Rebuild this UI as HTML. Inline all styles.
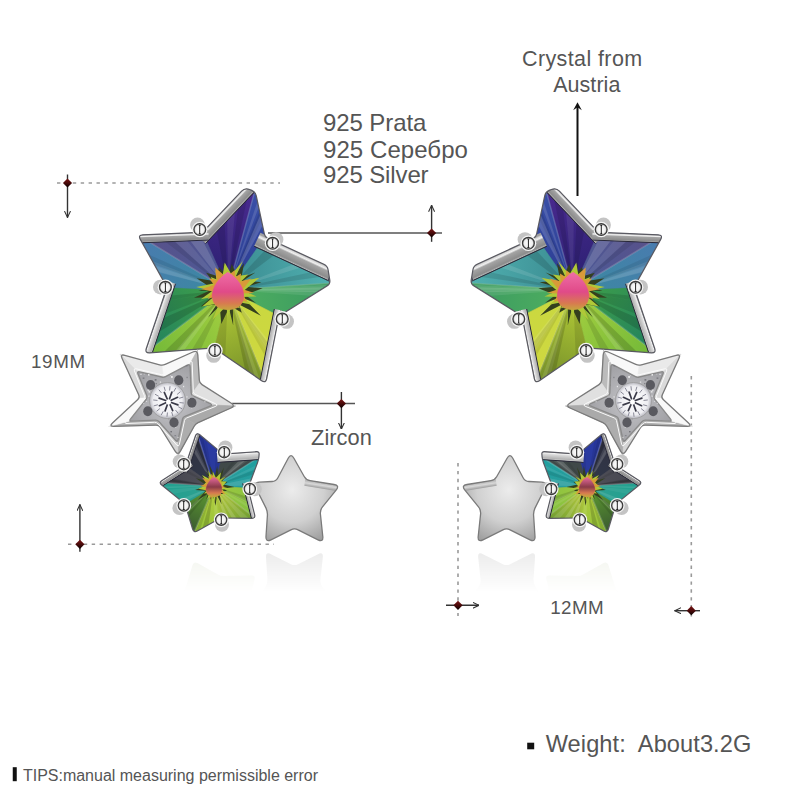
<!DOCTYPE html>
<html><head><meta charset="utf-8"><style>html,body{margin:0;padding:0;background:#fff;width:800px;height:800px;overflow:hidden}svg{display:block}</style></head>
<body><svg width="800" height="800" viewBox="0 0 800 800">
<defs>
<linearGradient id="silv2" x1="0" y1="0" x2="1" y2="1"><stop offset="0" stop-color="#f4f4f4"/><stop offset="0.55" stop-color="#d8d8d8"/><stop offset="1" stop-color="#a8a8a8"/></linearGradient>
<radialGradient id="silv3" cx="0.45" cy="0.4" r="0.7"><stop offset="0" stop-color="#ececec"/><stop offset="0.55" stop-color="#d0d0d0"/><stop offset="1" stop-color="#9a9a9a"/></radialGradient>
<radialGradient id="ball2" cx="0.5" cy="0.5" r="0.5"><stop offset="0" stop-color="#ffffff"/><stop offset="0.7" stop-color="#f0f0f0"/><stop offset="1" stop-color="#9a9a9a"/></radialGradient>
<radialGradient id="ball" cx="0.4" cy="0.35" r="0.65"><stop offset="0" stop-color="#ffffff"/><stop offset="0.45" stop-color="#d8d8d8"/><stop offset="1" stop-color="#5a5a5a"/></radialGradient>
<linearGradient id="rfade" gradientUnits="userSpaceOnUse" x1="0" y1="548" x2="0" y2="592"><stop offset="0" stop-color="#fff" stop-opacity="0.55"/><stop offset="1" stop-color="#fff" stop-opacity="0"/></linearGradient>
<mask id="rmask" maskUnits="userSpaceOnUse" x="0" y="540" width="800" height="80"><rect x="0" y="540" width="800" height="80" fill="url(#rfade)"/></mask>
<radialGradient id="pave" cx="0.5" cy="0.5" r="0.6"><stop offset="0" stop-color="#c4c4c8"/><stop offset="1" stop-color="#9c9ca0"/></radialGradient>
<radialGradient id="zirc" cx="0.5" cy="0.5" r="0.5"><stop offset="0" stop-color="#ffffff"/><stop offset="0.8" stop-color="#eeeef2"/><stop offset="1" stop-color="#b8b8c0"/></radialGradient>
<marker id="ah" viewBox="0 0 10 10" refX="9.5" refY="5" markerWidth="4.8" markerHeight="4.8" orient="auto-start-reverse"><path d="M0,0.5 L9.5,5 L0,9.5" fill="none" stroke="#333" stroke-width="1.6"/></marker>
<marker id="ah2" viewBox="0 0 10 10" refX="10" refY="5" markerWidth="3.6" markerHeight="4" orient="auto-start-reverse"><path d="M0,0 L10,5 L0,10 L3,5 Z" fill="#111"/></marker>
<linearGradient id="dia" x1="0" y1="0" x2="0" y2="1"><stop offset="0" stop-color="#7a1414"/><stop offset="0.5" stop-color="#4a0a0a"/><stop offset="1" stop-color="#080000"/></linearGradient>
<clipPath id="cl1"><path d="M241.6,191.1 Q245.0,187.5 249.6,189.5 L251.8,190.4 Q255.5,192.0 256.3,195.9 L264.4,234.1 Q265.0,237.0 267.7,238.3 L323.9,264.3 Q327.5,266.0 328.1,269.9 L329.8,280.1 Q330.4,284.0 327.0,286.1 L281.5,314.4 Q279.0,316.0 278.4,318.9 L266.7,378.6 Q265.8,383.5 261.6,380.7 L216.5,349.7 Q214.0,348.0 211.0,348.2 L149.7,352.9 Q144.8,353.2 146.3,348.5 L166.0,290.1 Q167.0,287.2 165.5,284.6 L140.3,239.4 Q137.9,235.0 142.9,234.8 L199.5,232.4 Q202.5,232.2 204.6,230.1 Z"/></clipPath>
<linearGradient id="g1" gradientUnits="userSpaceOnUse" x1="228.0" y1="290.0" x2="254.8" y2="191.0"><stop offset="0" stop-color="#2a2070"/><stop offset="1" stop-color="#4a2a90"/></linearGradient>
<linearGradient id="g2" gradientUnits="userSpaceOnUse" x1="228.0" y1="290.0" x2="254.8" y2="191.0"><stop offset="0" stop-color="#2a3a90"/><stop offset="1" stop-color="#3a50a8"/></linearGradient>
<linearGradient id="g3" gradientUnits="userSpaceOnUse" x1="228.0" y1="290.0" x2="330.4" y2="283.1"><stop offset="0" stop-color="#3a8a90"/><stop offset="1" stop-color="#50b0b0"/></linearGradient>
<linearGradient id="g4" gradientUnits="userSpaceOnUse" x1="228.0" y1="290.0" x2="330.4" y2="283.1"><stop offset="0" stop-color="#50b060"/><stop offset="1" stop-color="#3a9a60"/></linearGradient>
<linearGradient id="g5" gradientUnits="userSpaceOnUse" x1="228.0" y1="290.0" x2="265.8" y2="383.5"><stop offset="0" stop-color="#c8d840"/><stop offset="1" stop-color="#d0d840"/></linearGradient>
<linearGradient id="g6" gradientUnits="userSpaceOnUse" x1="228.0" y1="290.0" x2="265.8" y2="383.5"><stop offset="0" stop-color="#b8d038"/><stop offset="1" stop-color="#708a28"/></linearGradient>
<linearGradient id="g7" gradientUnits="userSpaceOnUse" x1="228.0" y1="290.0" x2="144.8" y2="353.2"><stop offset="0" stop-color="#a8d040"/><stop offset="1" stop-color="#70b838"/></linearGradient>
<linearGradient id="g8" gradientUnits="userSpaceOnUse" x1="228.0" y1="290.0" x2="144.8" y2="353.2"><stop offset="0" stop-color="#40a048"/><stop offset="1" stop-color="#208060"/></linearGradient>
<linearGradient id="g9" gradientUnits="userSpaceOnUse" x1="228.0" y1="290.0" x2="137.9" y2="235.0"><stop offset="0" stop-color="#3a8aa0"/><stop offset="1" stop-color="#4a7ab0"/></linearGradient>
<linearGradient id="g10" gradientUnits="userSpaceOnUse" x1="228.0" y1="290.0" x2="137.9" y2="235.0"><stop offset="0" stop-color="#4a5a98"/><stop offset="1" stop-color="#5a5088"/></linearGradient>
<linearGradient id="g11" gradientUnits="userSpaceOnUse" x1="228.0" y1="271.0" x2="228.0" y2="309.0"><stop offset="0" stop-color="#f070a8"/><stop offset="0.55" stop-color="#e04a88"/><stop offset="0.85" stop-color="#d87a50"/><stop offset="1" stop-color="#c8a040"/></linearGradient>
<linearGradient id="g12" gradientUnits="userSpaceOnUse" x1="202.5" y1="232.2" x2="209.8" y2="239.1"><stop offset="0" stop-color="#a0a0a0"/><stop offset="0.1" stop-color="#d8d8d8"/><stop offset="0.22" stop-color="#f0f0f0"/><stop offset="0.35" stop-color="#a4a4a4"/><stop offset="0.8" stop-color="#8c8c8c"/><stop offset="0.92" stop-color="#b0b0b0"/><stop offset="1" stop-color="#4a4a4a"/></linearGradient>
<linearGradient id="g13" gradientUnits="userSpaceOnUse" x1="137.9" y1="235.0" x2="138.2" y2="243.0"><stop offset="0" stop-color="#a0a0a0"/><stop offset="0.1" stop-color="#d8d8d8"/><stop offset="0.22" stop-color="#f0f0f0"/><stop offset="0.35" stop-color="#a4a4a4"/><stop offset="0.8" stop-color="#8c8c8c"/><stop offset="0.92" stop-color="#b0b0b0"/><stop offset="1" stop-color="#4a4a4a"/></linearGradient>
<linearGradient id="g14" gradientUnits="userSpaceOnUse" x1="265.0" y1="237.0" x2="259.5" y2="248.8"><stop offset="0" stop-color="#a0a0a0"/><stop offset="0.1" stop-color="#d8d8d8"/><stop offset="0.22" stop-color="#f0f0f0"/><stop offset="0.35" stop-color="#a4a4a4"/><stop offset="0.8" stop-color="#8c8c8c"/><stop offset="0.92" stop-color="#b0b0b0"/><stop offset="1" stop-color="#4a4a4a"/></linearGradient>
<linearGradient id="g15" gradientUnits="userSpaceOnUse" x1="279.0" y1="316.0" x2="273.1" y2="314.8"><stop offset="0" stop-color="#a8a8a8"/><stop offset="0.12" stop-color="#f2f2f2"/><stop offset="0.3" stop-color="#d8d8d8"/><stop offset="0.75" stop-color="#b4b4b4"/><stop offset="0.9" stop-color="#c4c4c4"/><stop offset="1" stop-color="#5a5a5a"/></linearGradient>
<linearGradient id="g16" gradientUnits="userSpaceOnUse" x1="144.8" y1="353.2" x2="151.4" y2="355.5"><stop offset="0" stop-color="#a8a8a8"/><stop offset="0.12" stop-color="#f2f2f2"/><stop offset="0.3" stop-color="#d8d8d8"/><stop offset="0.75" stop-color="#b4b4b4"/><stop offset="0.9" stop-color="#c4c4c4"/><stop offset="1" stop-color="#5a5a5a"/></linearGradient>
<clipPath id="cpave"><path d="M138.0,374.0 Q136.9,371.2 139.8,371.9 L161.8,377.0 Q163.8,377.5 165.5,376.6 L187.3,365.1 Q190.0,363.8 190.1,366.7 L191.2,393.0 Q191.2,395.0 193.1,395.8 L210.3,403.7 Q213.0,405.0 210.2,406.1 L184.9,416.3 Q183.0,417.0 182.6,419.0 L178.1,439.6 Q177.5,442.5 175.5,440.3 L158.8,421.5 Q157.5,420.0 155.5,420.1 L131.7,421.1 Q128.8,421.2 130.6,418.9 L146.3,399.1 Q147.5,397.5 146.8,395.6 Z"/></clipPath>
<clipPath id="cl4"><path d="M288.2,458.3 Q291.0,453.0 293.9,458.2 L304.2,476.5 Q306.2,480.0 310.1,480.6 L334.0,484.5 Q339.9,485.4 336.1,490.1 L322.5,506.9 Q320.0,510.0 320.4,514.0 L322.8,536.5 Q323.4,542.5 318.0,539.8 L298.1,529.8 Q294.5,528.0 290.9,529.8 L271.0,539.8 Q265.6,542.5 266.0,536.5 L267.4,515.5 Q267.7,511.5 265.9,507.9 L255.9,488.0 Q253.2,482.6 259.2,482.2 L272.0,481.5 Q276.0,481.2 277.9,477.7 Z"/></clipPath>
<linearGradient id="g17" gradientUnits="userSpaceOnUse" x1="306.2" y1="480.0" x2="305.3" y2="485.9"><stop offset="0" stop-color="#b0b0b0"/><stop offset="0.5" stop-color="#d8d8d8"/><stop offset="1" stop-color="#a0a0a0"/></linearGradient>
<clipPath id="cl3"><path d="M195.4,436.0 Q196.7,432.2 199.8,434.8 L220.7,452.1 Q223.0,454.0 226.0,453.8 L256.5,451.7 Q259.5,451.5 259.1,454.5 L258.9,457.0 Q258.5,460.0 257.5,462.8 L249.0,485.5 Q248.0,488.3 248.7,491.2 L254.6,514.6 Q255.6,518.5 251.6,518.4 L223.5,518.0 Q220.5,518.0 217.9,519.5 L197.3,530.9 Q193.8,532.8 192.6,529.0 L185.9,506.9 Q185.0,504.0 182.7,502.1 L161.7,485.0 Q158.6,482.5 162.0,480.4 L183.0,467.1 Q185.5,465.5 186.5,462.7 Z"/></clipPath>
<linearGradient id="g18" gradientUnits="userSpaceOnUse" x1="214.0" y1="486.0" x2="196.7" y2="432.2"><stop offset="0" stop-color="#30384a"/><stop offset="1" stop-color="#303040"/></linearGradient>
<linearGradient id="g19" gradientUnits="userSpaceOnUse" x1="214.0" y1="486.0" x2="196.7" y2="432.2"><stop offset="0" stop-color="#2a3a98"/><stop offset="1" stop-color="#2a3aa8"/></linearGradient>
<linearGradient id="g20" gradientUnits="userSpaceOnUse" x1="214.0" y1="486.0" x2="259.5" y2="457.0"><stop offset="0" stop-color="#404848"/><stop offset="1" stop-color="#404a4a"/></linearGradient>
<linearGradient id="g21" gradientUnits="userSpaceOnUse" x1="214.0" y1="486.0" x2="259.5" y2="457.0"><stop offset="0" stop-color="#2a9a9a"/><stop offset="1" stop-color="#20a0a0"/></linearGradient>
<linearGradient id="g22" gradientUnits="userSpaceOnUse" x1="214.0" y1="486.0" x2="255.6" y2="518.5"><stop offset="0" stop-color="#a0c840"/><stop offset="1" stop-color="#80c040"/></linearGradient>
<linearGradient id="g23" gradientUnits="userSpaceOnUse" x1="214.0" y1="486.0" x2="255.6" y2="518.5"><stop offset="0" stop-color="#c0d040"/><stop offset="1" stop-color="#6a9a30"/></linearGradient>
<linearGradient id="g24" gradientUnits="userSpaceOnUse" x1="214.0" y1="486.0" x2="193.8" y2="532.8"><stop offset="0" stop-color="#b8d040"/><stop offset="1" stop-color="#90c038"/></linearGradient>
<linearGradient id="g25" gradientUnits="userSpaceOnUse" x1="214.0" y1="486.0" x2="193.8" y2="532.8"><stop offset="0" stop-color="#60a030"/><stop offset="1" stop-color="#3a5a30"/></linearGradient>
<linearGradient id="g26" gradientUnits="userSpaceOnUse" x1="214.0" y1="486.0" x2="158.6" y2="482.5"><stop offset="0" stop-color="#30a090"/><stop offset="1" stop-color="#20a090"/></linearGradient>
<linearGradient id="g27" gradientUnits="userSpaceOnUse" x1="214.0" y1="486.0" x2="158.6" y2="482.5"><stop offset="0" stop-color="#505058"/><stop offset="1" stop-color="#454550"/></linearGradient>
<linearGradient id="g28" gradientUnits="userSpaceOnUse" x1="214.0" y1="476.0" x2="214.0" y2="496.0"><stop offset="0" stop-color="#f070a8"/><stop offset="0.55" stop-color="#8a3a48"/><stop offset="0.85" stop-color="#d87a50"/><stop offset="1" stop-color="#c8a040"/></linearGradient>
<linearGradient id="g29" gradientUnits="userSpaceOnUse" x1="223.0" y1="454.0" x2="223.5" y2="462.0"><stop offset="0" stop-color="#a8a8a8"/><stop offset="0.12" stop-color="#f2f2f2"/><stop offset="0.3" stop-color="#d8d8d8"/><stop offset="0.75" stop-color="#b4b4b4"/><stop offset="0.9" stop-color="#c4c4c4"/><stop offset="1" stop-color="#5a5a5a"/></linearGradient>
<linearGradient id="g30" gradientUnits="userSpaceOnUse" x1="248.0" y1="488.3" x2="244.1" y2="489.3"><stop offset="0" stop-color="#a8a8a8"/><stop offset="0.12" stop-color="#f2f2f2"/><stop offset="0.3" stop-color="#d8d8d8"/><stop offset="0.75" stop-color="#b4b4b4"/><stop offset="0.9" stop-color="#c4c4c4"/><stop offset="1" stop-color="#5a5a5a"/></linearGradient>
<linearGradient id="g31" gradientUnits="userSpaceOnUse" x1="158.6" y1="482.5" x2="161.3" y2="486.7"><stop offset="0" stop-color="#a0a0a0"/><stop offset="0.1" stop-color="#d8d8d8"/><stop offset="0.22" stop-color="#f0f0f0"/><stop offset="0.35" stop-color="#a4a4a4"/><stop offset="0.8" stop-color="#8c8c8c"/><stop offset="0.92" stop-color="#b0b0b0"/><stop offset="1" stop-color="#4a4a4a"/></linearGradient>
<linearGradient id="g32" gradientUnits="userSpaceOnUse" x1="185.5" y1="465.5" x2="189.3" y2="466.8"><stop offset="0" stop-color="#a0a0a0"/><stop offset="0.1" stop-color="#d8d8d8"/><stop offset="0.22" stop-color="#f0f0f0"/><stop offset="0.35" stop-color="#a4a4a4"/><stop offset="0.8" stop-color="#8c8c8c"/><stop offset="0.92" stop-color="#b0b0b0"/><stop offset="1" stop-color="#4a4a4a"/></linearGradient></defs>
<line x1="57" y1="183" x2="280" y2="183" stroke="#9a9a9a" stroke-width="1.6" stroke-dasharray="3.4 4.5"/>
<line x1="67.5" y1="174.5" x2="67.5" y2="217.5" stroke="#333" stroke-width="1.4" marker-end="url(#ah)"/>
<polygon points="67.5,178.4 72.1,183 67.5,187.6 62.9,183" fill="url(#dia)"/>
<line x1="268" y1="233" x2="442" y2="233" stroke="#555" stroke-width="1.5"/>
<line x1="431.6" y1="241.8" x2="431.6" y2="205.3" stroke="#333" stroke-width="1.4" marker-end="url(#ah)"/>
<polygon points="431.6,228.4 436.20000000000005,233 431.6,237.6 427.0,233" fill="url(#dia)"/>
<line x1="577.5" y1="196" x2="577.5" y2="106" stroke="#111" stroke-width="2"/><path d="M577.5,102.3 L581.8,110.2 L577.5,107.2 L573.2,110.2 Z" fill="#111"/>
<line x1="232" y1="403.6" x2="355" y2="403.6" stroke="#555" stroke-width="1.5"/>
<line x1="341.4" y1="392" x2="341.4" y2="429" stroke="#333" stroke-width="1.4" marker-end="url(#ah)"/>
<polygon points="341.4,399.0 346.0,403.6 341.4,408.20000000000005 336.79999999999995,403.6" fill="url(#dia)"/>
<line x1="68" y1="544.3" x2="274" y2="544.3" stroke="#9a9a9a" stroke-width="1.6" stroke-dasharray="3.4 4.5"/>
<line x1="79.9" y1="551.7" x2="79.9" y2="504.6" stroke="#333" stroke-width="1.4" marker-end="url(#ah)"/>
<polygon points="79.9,539.6999999999999 84.5,544.3 79.9,548.9 75.30000000000001,544.3" fill="url(#dia)"/>
<line x1="458" y1="463" x2="458" y2="616" stroke="#9a9a9a" stroke-width="1.6" stroke-dasharray="3.4 4.5"/>
<line x1="446" y1="605.3" x2="479" y2="605.3" stroke="#333" stroke-width="1.4" marker-end="url(#ah)"/>
<polygon points="458,600.6999999999999 462.6,605.3 458,609.9 453.4,605.3" fill="url(#dia)"/>
<line x1="691.3" y1="376" x2="691.3" y2="618" stroke="#9a9a9a" stroke-width="1.6" stroke-dasharray="3.4 4.5"/>
<line x1="700" y1="610.7" x2="674.7" y2="610.7" stroke="#333" stroke-width="1.4" marker-end="url(#ah)"/>
<polygon points="691.3,606.1 695.9,610.7 691.3,615.3000000000001 686.6999999999999,610.7" fill="url(#dia)"/>
<g><g mask="url(#rmask)"><g transform="translate(0,1094) scale(1,-1)"><path d="M195.4,436.0 Q196.7,432.2 199.8,434.8 L220.7,452.1 Q223.0,454.0 226.0,453.8 L256.5,451.7 Q259.5,451.5 259.1,454.5 L258.9,457.0 Q258.5,460.0 257.5,462.8 L249.0,485.5 Q248.0,488.3 248.7,491.2 L254.6,514.6 Q255.6,518.5 251.6,518.4 L223.5,518.0 Q220.5,518.0 217.9,519.5 L197.3,530.9 Q193.8,532.8 192.6,529.0 L185.9,506.9 Q185.0,504.0 182.7,502.1 L161.7,485.0 Q158.6,482.5 162.0,480.4 L183.0,467.1 Q185.5,465.5 186.5,462.7 Z" fill="#e6eadc"/><path d="M288.2,458.3 Q291.0,453.0 293.9,458.2 L304.2,476.5 Q306.2,480.0 310.1,480.6 L334.0,484.5 Q339.9,485.4 336.1,490.1 L322.5,506.9 Q320.0,510.0 320.4,514.0 L322.8,536.5 Q323.4,542.5 318.0,539.8 L298.1,529.8 Q294.5,528.0 290.9,529.8 L271.0,539.8 Q265.6,542.5 266.0,536.5 L267.4,515.5 Q267.7,511.5 265.9,507.9 L255.9,488.0 Q253.2,482.6 259.2,482.2 L272.0,481.5 Q276.0,481.2 277.9,477.7 Z" fill="#d8d8d8"/></g></g><g clip-path="url(#cl1)">
<polygon points="245.0,187.5 255.5,192.0 265.0,237.0 327.5,266.0 330.4,284.0 279.0,316.0 265.8,383.5 214.0,348.0 144.8,353.2 167.0,287.2 137.9,235.0 202.5,232.2" fill="#445"/>
<polygon points="228.0,290.0 202.5,232.2 254.8,191.0" fill="url(#g1)" stroke="url(#g1)" stroke-width="0.6"/>
<polygon points="228.0,290.0 254.8,191.0 265.0,237.0" fill="url(#g2)" stroke="url(#g2)" stroke-width="0.6"/>
<polygon points="228.0,290.0 215.1,222.3 224.2,215.1" fill="#000000" fill-opacity="0.11"/>
<polygon points="228.0,290.0 227.2,212.8 235.5,206.2" fill="#ffffff" fill-opacity="0.07"/>
<polygon points="228.0,290.0 238.6,203.7 247.5,196.7" fill="#000000" fill-opacity="0.11"/>
<polygon points="228.0,290.0 259.3,211.6 261.3,220.2" fill="#000000" fill-opacity="0.10"/>
<polygon points="228.0,290.0 260.2,215.2 262.5,225.6" fill="#ffffff" fill-opacity="0.16"/>
<polygon points="228.0,290.0 257.2,202.2 258.5,207.7" fill="#ffffff" fill-opacity="0.13"/>
<line x1="228.0" y1="290.0" x2="254.8" y2="191.0" stroke="#ffffff" stroke-opacity="0.18" stroke-width="1.5"/>
<polygon points="228.0,290.0 265.0,237.0 330.4,283.1" fill="url(#g3)" stroke="url(#g3)" stroke-width="0.6"/>
<polygon points="228.0,290.0 330.4,283.1 279.0,316.0" fill="url(#g4)" stroke="url(#g4)" stroke-width="0.6"/>
<polygon points="228.0,290.0 314.1,271.6 321.5,276.8" fill="#000000" fill-opacity="0.11"/>
<polygon points="228.0,290.0 272.4,242.2 282.1,249.1" fill="#000000" fill-opacity="0.13"/>
<polygon points="228.0,290.0 300.1,261.7 306.0,265.9" fill="#ffffff" fill-opacity="0.11"/>
<polygon points="228.0,290.0 327.7,284.8 320.0,289.7" fill="#ffffff" fill-opacity="0.13"/>
<polygon points="228.0,290.0 318.9,290.5 310.6,295.8" fill="#ffffff" fill-opacity="0.09"/>
<polygon points="228.0,290.0 323.8,287.3 316.0,292.3" fill="#ffffff" fill-opacity="0.12"/>
<line x1="228.0" y1="290.0" x2="330.4" y2="283.1" stroke="#ffffff" stroke-opacity="0.18" stroke-width="1.5"/>
<polygon points="228.0,290.0 279.0,316.0 265.8,383.5" fill="url(#g5)" stroke="url(#g5)" stroke-width="0.6"/>
<polygon points="228.0,290.0 265.8,383.5 214.0,348.0" fill="url(#g6)" stroke="url(#g6)" stroke-width="0.6"/>
<polygon points="228.0,290.0 273.1,346.2 271.3,355.0" fill="#ffffff" fill-opacity="0.11"/>
<polygon points="228.0,290.0 272.5,349.1 269.5,364.2" fill="#000000" fill-opacity="0.09"/>
<polygon points="228.0,290.0 271.6,353.9 270.4,359.6" fill="#ffffff" fill-opacity="0.06"/>
<polygon points="228.0,290.0 259.7,379.3 249.9,372.6" fill="#ffffff" fill-opacity="0.10"/>
<polygon points="228.0,290.0 254.6,375.8 245.0,369.3" fill="#000000" fill-opacity="0.15"/>
<polygon points="228.0,290.0 225.3,355.7 214.0,348.0" fill="#000000" fill-opacity="0.11"/>
<line x1="228.0" y1="290.0" x2="265.8" y2="383.5" stroke="#ffffff" stroke-opacity="0.18" stroke-width="1.5"/>
<polygon points="228.0,290.0 214.0,348.0 144.8,353.2" fill="url(#g7)" stroke="url(#g7)" stroke-width="0.6"/>
<polygon points="228.0,290.0 144.8,353.2 167.0,287.2" fill="url(#g8)" stroke="url(#g8)" stroke-width="0.6"/>
<polygon points="228.0,290.0 177.8,350.7 164.1,351.8" fill="#000000" fill-opacity="0.15"/>
<polygon points="228.0,290.0 184.1,350.3 175.5,350.9" fill="#ffffff" fill-opacity="0.12"/>
<polygon points="228.0,290.0 200.9,349.0 191.9,349.7" fill="#000000" fill-opacity="0.11"/>
<polygon points="228.0,290.0 150.2,337.2 155.5,321.4" fill="#000000" fill-opacity="0.15"/>
<polygon points="228.0,290.0 162.1,301.6 164.0,296.3" fill="#000000" fill-opacity="0.12"/>
<polygon points="228.0,290.0 157.1,316.7 162.1,301.7" fill="#000000" fill-opacity="0.10"/>
<line x1="228.0" y1="290.0" x2="144.8" y2="353.2" stroke="#ffffff" stroke-opacity="0.18" stroke-width="1.5"/>
<polygon points="228.0,290.0 167.0,287.2 137.9,235.0" fill="url(#g9)" stroke="url(#g9)" stroke-width="0.6"/>
<polygon points="228.0,290.0 137.9,235.0 202.5,232.2" fill="url(#g10)" stroke="url(#g10)" stroke-width="0.6"/>
<polygon points="228.0,290.0 158.3,271.7 152.4,261.1" fill="#ffffff" fill-opacity="0.09"/>
<polygon points="228.0,290.0 158.7,272.4 155.1,265.9" fill="#ffffff" fill-opacity="0.08"/>
<polygon points="228.0,290.0 154.3,264.4 148.8,254.5" fill="#000000" fill-opacity="0.08"/>
<polygon points="228.0,290.0 184.3,233.0 198.5,232.4" fill="#ffffff" fill-opacity="0.14"/>
<polygon points="228.0,290.0 166.0,233.8 180.7,233.2" fill="#ffffff" fill-opacity="0.08"/>
<polygon points="228.0,290.0 155.6,234.2 166.5,233.8" fill="#000000" fill-opacity="0.09"/>
<line x1="228.0" y1="290.0" x2="137.9" y2="235.0" stroke="#ffffff" stroke-opacity="0.18" stroke-width="1.5"/>
<polygon points="262.7,288.2 245.4,295.0 256.1,303.0 244.0,298.6 260.9,315.8 239.1,304.4 241.8,312.7 232.9,307.5 233.2,325.5 228.9,308.1 221.3,324.1 219.7,306.1 208.1,317.6 216.9,304.3 200.8,306.5 211.4,297.3 193.9,297.7 209.9,290.5 198.4,291.1 210.1,287.3 196.6,278.2 212.4,280.8 206.1,272.8 216.7,275.8 219.0,267.2 223.8,272.3 223.1,263.2 229.4,271.9 231.8,264.1 236.1,273.8 244.1,263.1 241.4,277.8 255.4,272.5 243.4,280.4 261.6,282.3 245.9,286.8" fill="#34401e"/>
<polygon points="256.6,296.4 242.2,297.0 251.9,304.7 238.3,302.1 239.8,308.3 231.9,305.4 227.2,317.2 226.7,305.8 212.5,320.0 219.2,303.2 202.1,306.5 213.7,296.8 200.8,299.3 212.2,291.0 196.2,287.0 213.5,283.6 210.7,277.1 216.3,279.3 215.4,270.4 222.7,275.1 224.7,262.5 231.5,274.6 242.9,260.9 235.9,276.3 248.2,274.5 241.3,281.3 259.5,277.8 243.8,290.7" fill="#b0c838"/>
<polygon points="254.2,292.9 242.6,293.4 247.1,301.9 239.3,299.9 235.3,304.3 233.7,303.8 232.5,309.2 226.9,304.9 224.6,305.4 218.9,301.9 213.5,302.4 214.7,296.8 207.6,299.0 213.1,291.5 201.5,289.2 214.0,284.8 209.0,278.5 216.8,280.1 215.2,267.4 224.3,275.5 227.3,271.5 228.5,275.0 234.7,270.2 235.5,277.1 241.0,273.4 240.3,281.5 251.4,278.6 242.9,289.3" fill="#d89a38"/>
<path d="M228.0,272.0 C237.6,277.7 244.0,287.2 244.0,295.8 C244.0,306.2 236.0,310.0 228.0,310.0 C220.0,310.0 212.0,306.2 212.0,295.8 C212.0,287.2 218.4,277.7 228.0,272.0 Z" fill="url(#g11)"/>
<polygon points="196.9,235.2 247.7,181.8 256.4,190.0 205.6,243.5" fill="url(#g12)"/><line x1="205.6" y1="243.5" x2="256.4" y2="190.0" stroke="#2a2a3a" stroke-width="1"/>
<polygon points="131.8,233.3 208.4,230.0 208.8,240.0 132.2,243.2" fill="url(#g13)"/><line x1="132.2" y1="243.2" x2="208.8" y2="240.0" stroke="#2a2a3a" stroke-width="1"/>
<polygon points="260.4,232.7 333.8,266.7 327.5,280.3 254.1,246.3" fill="url(#g14)"/><line x1="254.1" y1="246.3" x2="327.5" y2="280.3" stroke="#2a2a3a" stroke-width="1"/>
<polygon points="282.1,310.5 266.6,389.8 258.7,388.2 274.3,309.0" fill="url(#g15)"/><line x1="274.3" y1="309.0" x2="258.7" y2="388.2" stroke="#2a2a3a" stroke-width="1"/>
<polygon points="140.9,358.3 167.0,280.9 175.5,283.8 149.5,361.2" fill="url(#g16)"/><line x1="149.5" y1="361.2" x2="175.5" y2="283.8" stroke="#2a2a3a" stroke-width="1"/>
</g>
<path d="M241.6,191.1 Q245.0,187.5 249.6,189.5 L251.8,190.4 Q255.5,192.0 256.3,195.9 L264.4,234.1 Q265.0,237.0 267.7,238.3 L323.9,264.3 Q327.5,266.0 328.1,269.9 L329.8,280.1 Q330.4,284.0 327.0,286.1 L281.5,314.4 Q279.0,316.0 278.4,318.9 L266.7,378.6 Q265.8,383.5 261.6,380.7 L216.5,349.7 Q214.0,348.0 211.0,348.2 L149.7,352.9 Q144.8,353.2 146.3,348.5 L166.0,290.1 Q167.0,287.2 165.5,284.6 L140.3,239.4 Q137.9,235.0 142.9,234.8 L199.5,232.4 Q202.5,232.2 204.6,230.1 Z" fill="none" stroke="#5a5a62" stroke-width="1.2"/>
<circle cx="197.5" cy="225.0" r="7.4" fill="#c4c4c4"/><circle cx="199.8" cy="229.5" r="7.8" fill="#f4f4f4"/><circle cx="199.8" cy="229.5" r="5.9" fill="url(#ball2)" stroke="#3a3a3a" stroke-width="1.25"/><path d="M198.3,224.8 L201.2,224.8 L200.2,226.0 L200.2,233.0 L201.2,234.2 L198.3,234.2 L199.2,233.0 L199.2,226.0 Z" fill="#202020"/>
<circle cx="276.0" cy="239.6" r="7.4" fill="#c4c4c4"/><circle cx="272.6" cy="243.2" r="7.8" fill="#f4f4f4"/><circle cx="272.6" cy="243.2" r="5.9" fill="url(#ball2)" stroke="#3a3a3a" stroke-width="1.25"/><path d="M271.2,238.6 L274.0,238.6 L273.1,239.7 L273.1,246.8 L274.0,247.9 L271.2,247.9 L272.1,246.8 L272.1,239.7 Z" fill="#202020"/>
<circle cx="160.4" cy="287.1" r="7.4" fill="#c4c4c4"/><circle cx="165.4" cy="287.2" r="7.8" fill="#f4f4f4"/><circle cx="165.4" cy="287.2" r="5.9" fill="url(#ball2)" stroke="#3a3a3a" stroke-width="1.25"/><path d="M164.0,282.6 L166.8,282.6 L165.9,283.7 L165.9,290.8 L166.8,291.9 L164.0,291.9 L164.9,290.8 L164.9,283.7 Z" fill="#202020"/>
<circle cx="286.6" cy="321.4" r="7.4" fill="#c4c4c4"/><circle cx="282.2" cy="318.9" r="7.8" fill="#f4f4f4"/><circle cx="282.2" cy="318.9" r="5.9" fill="url(#ball2)" stroke="#3a3a3a" stroke-width="1.25"/><path d="M280.9,314.2 L283.6,314.2 L282.8,315.4 L282.8,322.4 L283.6,323.6 L280.9,323.6 L281.8,322.4 L281.8,315.4 Z" fill="#202020"/>
<circle cx="213.7" cy="355.4" r="7.4" fill="#c4c4c4"/><circle cx="214.9" cy="350.5" r="7.8" fill="#f4f4f4"/><circle cx="214.9" cy="350.5" r="5.9" fill="url(#ball2)" stroke="#3a3a3a" stroke-width="1.25"/><path d="M213.5,345.8 L216.3,345.8 L215.4,347.0 L215.4,354.0 L216.3,355.2 L213.5,355.2 L214.4,354.0 L214.4,347.0 Z" fill="#202020"/>
<path d="M122.1,358.5 Q120.0,354.0 124.8,355.3 L159.6,364.8 Q162.5,365.6 165.2,364.4 L192.9,352.0 Q197.5,350.0 197.8,355.0 L199.3,380.0 Q199.5,383.0 202.0,384.6 L231.3,403.3 Q235.5,406.0 230.9,408.0 L198.1,422.7 Q195.4,423.9 194.0,426.5 L180.4,451.1 Q178.0,455.5 175.3,451.3 L160.4,427.5 Q158.8,425.0 155.8,425.1 L113.8,426.3 Q108.8,426.5 112.5,423.1 L137.8,399.5 Q140.0,397.5 138.7,394.8 Z" fill="#e0e0e0"/>
<polygon points="120.0,354.0 162.5,365.6 163.8,377.5 136.9,371.2" fill="#eaeaea" stroke="#eaeaea" stroke-width="0.6"/>
<polygon points="162.5,365.6 197.5,350.0 190.0,363.8 163.8,377.5" fill="#f8f8f8" stroke="#f8f8f8" stroke-width="0.6"/>
<polygon points="197.5,350.0 199.5,383.0 191.2,395.0 190.0,363.8" fill="#bbbbbb" stroke="#bbbbbb" stroke-width="0.6"/>
<polygon points="199.5,383.0 235.5,406.0 213.0,405.0 191.2,395.0" fill="#e0e0e0" stroke="#e0e0e0" stroke-width="0.6"/>
<polygon points="235.5,406.0 195.4,423.9 183.0,417.0 213.0,405.0" fill="#aaaaaa" stroke="#aaaaaa" stroke-width="0.6"/>
<polygon points="195.4,423.9 178.0,455.5 177.5,442.5 183.0,417.0" fill="#adadad" stroke="#adadad" stroke-width="0.6"/>
<polygon points="178.0,455.5 158.8,425.0 157.5,420.0 177.5,442.5" fill="#d5d5d5" stroke="#d5d5d5" stroke-width="0.6"/>
<polygon points="158.8,425.0 108.8,426.5 128.8,421.2 157.5,420.0" fill="#b1b1b1" stroke="#b1b1b1" stroke-width="0.6"/>
<polygon points="108.8,426.5 140.0,397.5 147.5,397.5 128.8,421.2" fill="#f9f9f9" stroke="#f9f9f9" stroke-width="0.6"/>
<polygon points="140.0,397.5 120.0,354.0 136.9,371.2 147.5,397.5" fill="#dadada" stroke="#dadada" stroke-width="0.6"/>
<path d="M122.1,358.5 Q120.0,354.0 124.8,355.3 L159.6,364.8 Q162.5,365.6 165.2,364.4 L192.9,352.0 Q197.5,350.0 197.8,355.0 L199.3,380.0 Q199.5,383.0 202.0,384.6 L231.3,403.3 Q235.5,406.0 230.9,408.0 L198.1,422.7 Q195.4,423.9 194.0,426.5 L180.4,451.1 Q178.0,455.5 175.3,451.3 L160.4,427.5 Q158.8,425.0 155.8,425.1 L113.8,426.3 Q108.8,426.5 112.5,423.1 L137.8,399.5 Q140.0,397.5 138.7,394.8 Z" fill="none" stroke="#7a7a7a" stroke-width="1.3"/>
<path d="M138.0,374.0 Q136.9,371.2 139.8,371.9 L161.8,377.0 Q163.8,377.5 165.5,376.6 L187.3,365.1 Q190.0,363.8 190.1,366.7 L191.2,393.0 Q191.2,395.0 193.1,395.8 L210.3,403.7 Q213.0,405.0 210.2,406.1 L184.9,416.3 Q183.0,417.0 182.6,419.0 L178.1,439.6 Q177.5,442.5 175.5,440.3 L158.8,421.5 Q157.5,420.0 155.5,420.1 L131.7,421.1 Q128.8,421.2 130.6,418.9 L146.3,399.1 Q147.5,397.5 146.8,395.6 Z" fill="url(#pave)" stroke="#8a8a8a" stroke-width="1.4"/>
<path d="M134.4,370.9 Q133.3,368.1 136.2,368.8 L161.5,374.7 Q163.5,375.2 165.2,374.2 L189.4,361.6 Q192.1,360.2 192.2,363.2 L193.3,391.6 Q193.4,393.6 195.2,394.4 L215.8,403.9 Q218.6,405.1 215.8,406.3 L186.8,417.9 Q184.9,418.6 184.5,420.6 L179.4,444.3 Q178.7,447.2 176.7,445.0 L157.9,423.7 Q156.6,422.2 154.6,422.3 L127.0,423.5 Q124.0,423.7 125.9,421.3 L143.7,398.7 Q145.0,397.1 144.2,395.3 Z" fill="none" stroke="#fafafa" stroke-width="1"/>
<g clip-path="url(#cpave)"><rect x="154.1" y="372.8" width="0.9" height="1.3" fill="#6a6a70" fill-opacity="0.58"/><rect x="130.2" y="403.1" width="1.2" height="0.9" fill="#ffffff" fill-opacity="0.45"/><rect x="163.2" y="430.3" width="1.0" height="1.4" fill="#ffffff" fill-opacity="0.87"/><rect x="176.9" y="393.7" width="0.8" height="1.7" fill="#6a6a70" fill-opacity="0.54"/><rect x="138.0" y="370.0" width="1.6" height="1.0" fill="#ffffff" fill-opacity="0.69"/><rect x="182.5" y="391.7" width="0.9" height="0.9" fill="#ffffff" fill-opacity="0.50"/><rect x="186.2" y="396.3" width="1.4" height="1.3" fill="#ffffff" fill-opacity="0.55"/><rect x="196.5" y="419.4" width="1.4" height="1.3" fill="#ffffff" fill-opacity="0.84"/><rect x="190.7" y="384.5" width="0.9" height="1.2" fill="#6a6a70" fill-opacity="0.78"/><rect x="138.7" y="401.6" width="1.5" height="1.6" fill="#ffffff" fill-opacity="0.69"/><rect x="203.8" y="386.7" width="1.4" height="1.4" fill="#6a6a70" fill-opacity="0.63"/><rect x="200.6" y="440.3" width="1.5" height="0.9" fill="#ffffff" fill-opacity="0.75"/><rect x="183.2" y="444.4" width="1.1" height="1.2" fill="#6a6a70" fill-opacity="0.73"/><rect x="127.0" y="399.2" width="0.9" height="0.9" fill="#ffffff" fill-opacity="0.78"/><rect x="136.6" y="381.0" width="1.7" height="0.9" fill="#ffffff" fill-opacity="0.62"/><rect x="174.4" y="435.1" width="1.7" height="1.1" fill="#6a6a70" fill-opacity="0.61"/><rect x="157.3" y="435.2" width="1.0" height="1.0" fill="#6a6a70" fill-opacity="0.52"/><rect x="146.0" y="401.2" width="1.1" height="0.8" fill="#ffffff" fill-opacity="0.61"/><rect x="158.2" y="408.1" width="1.5" height="1.3" fill="#6a6a70" fill-opacity="0.71"/><rect x="185.9" y="364.6" width="1.6" height="1.7" fill="#6a6a70" fill-opacity="0.80"/><rect x="160.3" y="393.9" width="1.4" height="0.9" fill="#ffffff" fill-opacity="0.43"/><rect x="143.8" y="373.8" width="0.9" height="0.8" fill="#ffffff" fill-opacity="0.48"/><rect x="134.1" y="390.9" width="1.7" height="1.4" fill="#ffffff" fill-opacity="0.47"/><rect x="147.7" y="389.5" width="0.9" height="1.6" fill="#ffffff" fill-opacity="0.90"/><rect x="166.9" y="401.1" width="0.9" height="1.1" fill="#ffffff" fill-opacity="0.53"/><rect x="199.6" y="373.7" width="1.8" height="1.3" fill="#ffffff" fill-opacity="0.47"/><rect x="173.9" y="362.3" width="1.8" height="1.7" fill="#ffffff" fill-opacity="0.75"/><rect x="148.5" y="391.2" width="1.6" height="1.3" fill="#ffffff" fill-opacity="0.79"/><rect x="154.7" y="379.0" width="1.8" height="1.7" fill="#6a6a70" fill-opacity="0.80"/><rect x="198.6" y="422.9" width="1.3" height="1.2" fill="#ffffff" fill-opacity="0.41"/><rect x="127.5" y="383.8" width="1.5" height="1.8" fill="#ffffff" fill-opacity="0.62"/><rect x="209.3" y="444.0" width="1.2" height="1.0" fill="#6a6a70" fill-opacity="0.51"/><rect x="142.7" y="377.4" width="1.7" height="1.6" fill="#6a6a70" fill-opacity="0.64"/><rect x="183.8" y="428.0" width="1.5" height="1.7" fill="#ffffff" fill-opacity="0.79"/><rect x="192.5" y="400.6" width="1.6" height="1.1" fill="#ffffff" fill-opacity="0.80"/><rect x="212.4" y="393.6" width="1.7" height="1.5" fill="#ffffff" fill-opacity="0.49"/><rect x="136.4" y="372.8" width="1.6" height="0.9" fill="#6a6a70" fill-opacity="0.81"/><rect x="213.2" y="415.9" width="1.3" height="0.9" fill="#ffffff" fill-opacity="0.41"/><rect x="212.4" y="415.2" width="1.7" height="1.2" fill="#ffffff" fill-opacity="0.84"/><rect x="199.4" y="377.9" width="1.1" height="1.0" fill="#ffffff" fill-opacity="0.69"/><rect x="148.3" y="395.6" width="1.7" height="1.2" fill="#ffffff" fill-opacity="0.63"/><rect x="177.5" y="436.9" width="1.7" height="1.3" fill="#ffffff" fill-opacity="0.67"/><rect x="172.1" y="361.6" width="1.0" height="0.8" fill="#ffffff" fill-opacity="0.80"/><rect x="140.5" y="400.2" width="1.4" height="1.1" fill="#6a6a70" fill-opacity="0.66"/><rect x="175.0" y="426.7" width="1.4" height="1.0" fill="#ffffff" fill-opacity="0.54"/><rect x="194.5" y="403.2" width="1.6" height="1.7" fill="#ffffff" fill-opacity="0.62"/><rect x="180.1" y="403.0" width="1.5" height="1.3" fill="#ffffff" fill-opacity="0.67"/><rect x="168.0" y="440.0" width="1.7" height="1.7" fill="#6a6a70" fill-opacity="0.53"/><rect x="175.4" y="440.2" width="0.9" height="0.9" fill="#6a6a70" fill-opacity="0.62"/><rect x="131.5" y="380.5" width="1.5" height="1.6" fill="#ffffff" fill-opacity="0.85"/><rect x="138.9" y="420.9" width="0.9" height="1.7" fill="#6a6a70" fill-opacity="0.88"/><rect x="144.8" y="441.0" width="1.3" height="1.8" fill="#ffffff" fill-opacity="0.82"/><rect x="139.5" y="396.7" width="1.1" height="1.0" fill="#ffffff" fill-opacity="0.56"/><rect x="190.0" y="361.7" width="1.2" height="0.8" fill="#ffffff" fill-opacity="0.57"/><rect x="181.2" y="403.5" width="1.8" height="1.6" fill="#ffffff" fill-opacity="0.89"/><rect x="134.4" y="382.6" width="1.6" height="1.1" fill="#ffffff" fill-opacity="0.46"/><rect x="163.0" y="437.5" width="1.1" height="0.9" fill="#6a6a70" fill-opacity="0.86"/><rect x="176.4" y="419.5" width="0.9" height="1.5" fill="#ffffff" fill-opacity="0.61"/><rect x="131.5" y="439.8" width="1.6" height="0.9" fill="#6a6a70" fill-opacity="0.83"/><rect x="131.0" y="433.3" width="1.1" height="1.4" fill="#ffffff" fill-opacity="0.86"/><rect x="149.1" y="371.0" width="1.0" height="0.9" fill="#ffffff" fill-opacity="0.48"/><rect x="129.5" y="377.2" width="1.1" height="1.6" fill="#ffffff" fill-opacity="0.54"/><rect x="170.0" y="375.1" width="0.8" height="1.1" fill="#ffffff" fill-opacity="0.41"/><rect x="191.0" y="406.8" width="1.3" height="1.7" fill="#ffffff" fill-opacity="0.45"/><rect x="198.7" y="396.7" width="1.6" height="1.2" fill="#ffffff" fill-opacity="0.65"/><rect x="186.9" y="443.5" width="1.6" height="1.5" fill="#ffffff" fill-opacity="0.72"/><rect x="161.4" y="389.5" width="0.9" height="0.9" fill="#ffffff" fill-opacity="0.77"/><rect x="148.0" y="373.9" width="1.6" height="1.7" fill="#ffffff" fill-opacity="0.74"/><rect x="150.4" y="380.6" width="1.3" height="1.0" fill="#ffffff" fill-opacity="0.62"/><rect x="148.7" y="441.8" width="1.3" height="1.0" fill="#6a6a70" fill-opacity="0.88"/><rect x="152.9" y="390.3" width="1.2" height="1.3" fill="#ffffff" fill-opacity="0.65"/><rect x="143.1" y="402.9" width="1.1" height="0.9" fill="#ffffff" fill-opacity="0.60"/><rect x="128.8" y="361.9" width="1.0" height="1.4" fill="#ffffff" fill-opacity="0.66"/><rect x="192.5" y="415.9" width="1.7" height="1.2" fill="#6a6a70" fill-opacity="0.56"/><rect x="213.6" y="372.7" width="1.4" height="0.8" fill="#6a6a70" fill-opacity="0.82"/><rect x="205.3" y="413.3" width="1.6" height="0.9" fill="#6a6a70" fill-opacity="0.66"/><rect x="170.4" y="431.0" width="1.6" height="1.4" fill="#6a6a70" fill-opacity="0.85"/><rect x="186.5" y="418.9" width="0.8" height="0.9" fill="#ffffff" fill-opacity="0.58"/><rect x="134.4" y="431.0" width="1.4" height="1.4" fill="#ffffff" fill-opacity="0.74"/><rect x="169.0" y="360.3" width="1.5" height="1.3" fill="#6a6a70" fill-opacity="0.67"/><rect x="184.3" y="365.6" width="1.1" height="0.9" fill="#6a6a70" fill-opacity="0.53"/><rect x="190.6" y="377.4" width="1.8" height="1.3" fill="#6a6a70" fill-opacity="0.59"/><rect x="168.1" y="418.1" width="1.4" height="1.4" fill="#6a6a70" fill-opacity="0.44"/><rect x="138.3" y="381.6" width="1.1" height="1.4" fill="#6a6a70" fill-opacity="0.41"/><rect x="130.5" y="382.8" width="1.5" height="1.5" fill="#6a6a70" fill-opacity="0.55"/><rect x="171.5" y="399.5" width="0.9" height="1.7" fill="#ffffff" fill-opacity="0.50"/><rect x="213.0" y="439.6" width="1.3" height="1.6" fill="#ffffff" fill-opacity="0.88"/><rect x="165.5" y="382.8" width="1.7" height="1.0" fill="#ffffff" fill-opacity="0.69"/><rect x="137.8" y="404.5" width="0.9" height="1.6" fill="#6a6a70" fill-opacity="0.65"/><rect x="204.8" y="419.8" width="1.7" height="1.3" fill="#ffffff" fill-opacity="0.41"/><rect x="125.3" y="401.8" width="1.1" height="0.9" fill="#ffffff" fill-opacity="0.57"/><rect x="153.4" y="431.4" width="1.6" height="1.6" fill="#ffffff" fill-opacity="0.46"/><rect x="208.4" y="420.6" width="1.1" height="1.2" fill="#6a6a70" fill-opacity="0.60"/><rect x="214.9" y="410.1" width="1.2" height="1.1" fill="#ffffff" fill-opacity="0.42"/><rect x="134.2" y="430.9" width="1.7" height="1.0" fill="#ffffff" fill-opacity="0.53"/><rect x="171.0" y="376.1" width="1.8" height="1.7" fill="#ffffff" fill-opacity="0.81"/><rect x="181.8" y="437.6" width="1.3" height="1.5" fill="#6a6a70" fill-opacity="0.42"/><rect x="190.9" y="398.3" width="1.4" height="1.1" fill="#6a6a70" fill-opacity="0.42"/><rect x="208.4" y="370.8" width="1.1" height="1.1" fill="#ffffff" fill-opacity="0.77"/><rect x="212.9" y="382.1" width="1.1" height="1.4" fill="#6a6a70" fill-opacity="0.60"/><rect x="140.1" y="373.7" width="1.7" height="1.3" fill="#ffffff" fill-opacity="0.51"/><rect x="206.6" y="444.7" width="0.9" height="1.0" fill="#ffffff" fill-opacity="0.45"/><rect x="155.8" y="367.7" width="1.1" height="1.4" fill="#ffffff" fill-opacity="0.84"/><rect x="192.5" y="395.1" width="1.3" height="1.2" fill="#ffffff" fill-opacity="0.57"/><rect x="130.6" y="383.6" width="0.9" height="1.3" fill="#6a6a70" fill-opacity="0.71"/><rect x="202.7" y="378.4" width="1.0" height="1.2" fill="#ffffff" fill-opacity="0.62"/><rect x="210.9" y="432.1" width="0.8" height="0.8" fill="#6a6a70" fill-opacity="0.75"/><rect x="205.6" y="400.2" width="0.8" height="1.2" fill="#ffffff" fill-opacity="0.86"/><rect x="199.3" y="432.7" width="1.0" height="0.9" fill="#6a6a70" fill-opacity="0.48"/><rect x="172.0" y="418.0" width="1.5" height="1.4" fill="#6a6a70" fill-opacity="0.78"/><rect x="166.2" y="406.9" width="1.6" height="1.0" fill="#ffffff" fill-opacity="0.86"/><rect x="183.1" y="385.8" width="1.1" height="1.4" fill="#ffffff" fill-opacity="0.75"/><rect x="135.1" y="366.0" width="1.4" height="1.2" fill="#ffffff" fill-opacity="0.51"/><rect x="179.1" y="360.9" width="1.3" height="1.8" fill="#ffffff" fill-opacity="0.72"/><rect x="204.5" y="400.4" width="1.0" height="1.8" fill="#ffffff" fill-opacity="0.75"/><rect x="152.7" y="361.9" width="1.5" height="1.2" fill="#ffffff" fill-opacity="0.53"/><rect x="185.1" y="438.6" width="0.8" height="1.1" fill="#ffffff" fill-opacity="0.61"/><rect x="186.4" y="376.8" width="1.5" height="1.3" fill="#6a6a70" fill-opacity="0.50"/><rect x="212.3" y="386.5" width="1.0" height="1.0" fill="#6a6a70" fill-opacity="0.78"/><rect x="151.5" y="440.9" width="1.0" height="1.0" fill="#ffffff" fill-opacity="0.61"/><rect x="184.9" y="440.6" width="1.2" height="1.0" fill="#ffffff" fill-opacity="0.89"/><rect x="137.8" y="364.4" width="1.2" height="1.7" fill="#ffffff" fill-opacity="0.84"/><rect x="190.9" y="444.8" width="1.1" height="1.0" fill="#6a6a70" fill-opacity="0.87"/><rect x="192.2" y="362.7" width="1.2" height="1.2" fill="#6a6a70" fill-opacity="0.57"/><rect x="140.2" y="360.2" width="1.2" height="1.8" fill="#ffffff" fill-opacity="0.46"/><rect x="211.8" y="377.6" width="1.6" height="1.6" fill="#ffffff" fill-opacity="0.62"/><rect x="129.4" y="400.2" width="1.7" height="1.0" fill="#ffffff" fill-opacity="0.58"/><rect x="205.7" y="362.6" width="1.6" height="1.6" fill="#ffffff" fill-opacity="0.42"/><rect x="128.1" y="365.3" width="1.1" height="1.5" fill="#6a6a70" fill-opacity="0.85"/><rect x="155.5" y="383.1" width="1.4" height="1.1" fill="#6a6a70" fill-opacity="0.76"/><rect x="153.5" y="383.4" width="1.6" height="1.7" fill="#ffffff" fill-opacity="0.72"/><rect x="209.9" y="362.1" width="1.3" height="1.8" fill="#ffffff" fill-opacity="0.88"/><rect x="159.8" y="381.3" width="1.3" height="1.7" fill="#ffffff" fill-opacity="0.49"/><rect x="197.2" y="422.8" width="1.6" height="1.4" fill="#6a6a70" fill-opacity="0.56"/><rect x="153.8" y="390.8" width="0.9" height="1.0" fill="#6a6a70" fill-opacity="0.78"/><rect x="147.3" y="365.5" width="1.4" height="1.1" fill="#ffffff" fill-opacity="0.89"/><rect x="204.5" y="444.0" width="0.9" height="0.9" fill="#ffffff" fill-opacity="0.65"/><rect x="188.9" y="398.0" width="1.2" height="1.4" fill="#ffffff" fill-opacity="0.74"/><rect x="192.3" y="432.0" width="0.9" height="1.6" fill="#6a6a70" fill-opacity="0.55"/><rect x="176.0" y="391.7" width="1.0" height="1.0" fill="#6a6a70" fill-opacity="0.52"/></g>
<circle cx="167.5" cy="400.5" r="18" fill="url(#zirc)" stroke="#9a9a9a" stroke-width="0.8"/>
<path d="M171.3,402.5 L177.9,404.9 M169.8,404.2 L172.7,410.6 M167.5,404.3 L165.1,410.9 M165.8,402.8 L159.4,405.7 M165.7,400.5 L159.1,398.1 M167.2,398.8 L164.3,392.4 M169.5,398.7 L171.9,392.1 M171.2,400.2 L177.6,397.3" stroke="#3a3a48" stroke-width="1.7" stroke-linecap="round"/>
<path d="M179.9,402.6 L183.4,403.0 M178.6,406.9 L181.7,408.6 M175.8,410.4 L178.0,413.1 M171.8,412.5 L172.8,415.9 M167.4,412.9 L167.0,416.4 M163.1,411.6 L161.4,414.7 M159.6,408.8 L156.9,411.0 M157.5,404.8 L154.1,405.8 M157.1,400.4 L153.6,400.0 M158.4,396.1 L155.3,394.4 M161.2,392.6 L159.0,389.9 M165.2,390.5 L164.2,387.1 M169.6,390.1 L170.0,386.6 M173.9,391.4 L175.6,388.3 M177.4,394.2 L180.1,392.0 M179.5,398.2 L182.9,397.2" stroke="#8a8a98" stroke-width="1" stroke-linecap="round"/>
<circle cx="168.5" cy="402.5" r="2.2" fill="#fff"/>
<ellipse cx="150.6" cy="385" rx="4.6" ry="5" fill="#5a5a60"/>
<ellipse cx="178.75" cy="380.3" rx="4.6" ry="5" fill="#5a5a60"/>
<ellipse cx="191.9" cy="402.8" rx="4.6" ry="5" fill="#5a5a60"/>
<ellipse cx="174" cy="422.5" rx="4.6" ry="5" fill="#5a5a60"/>
<ellipse cx="147.8" cy="411.25" rx="4.6" ry="5" fill="#5a5a60"/>
<path d="M288.2,458.3 Q291.0,453.0 293.9,458.2 L304.2,476.5 Q306.2,480.0 310.1,480.6 L334.0,484.5 Q339.9,485.4 336.1,490.1 L322.5,506.9 Q320.0,510.0 320.4,514.0 L322.8,536.5 Q323.4,542.5 318.0,539.8 L298.1,529.8 Q294.5,528.0 290.9,529.8 L271.0,539.8 Q265.6,542.5 266.0,536.5 L267.4,515.5 Q267.7,511.5 265.9,507.9 L255.9,488.0 Q253.2,482.6 259.2,482.2 L272.0,481.5 Q276.0,481.2 277.9,477.7 Z" fill="url(#silv3)"/>
<g clip-path="url(#cl4)"><polygon points="305.5,477.9 341.2,483.6 339.9,491.5 304.3,485.8" fill="url(#g17)"/></g>
<path d="M288.2,458.3 Q291.0,453.0 293.9,458.2 L304.2,476.5 Q306.2,480.0 310.1,480.6 L334.0,484.5 Q339.9,485.4 336.1,490.1 L322.5,506.9 Q320.0,510.0 320.4,514.0 L322.8,536.5 Q323.4,542.5 318.0,539.8 L298.1,529.8 Q294.5,528.0 290.9,529.8 L271.0,539.8 Q265.6,542.5 266.0,536.5 L267.4,515.5 Q267.7,511.5 265.9,507.9 L255.9,488.0 Q253.2,482.6 259.2,482.2 L272.0,481.5 Q276.0,481.2 277.9,477.7 Z" fill="none" stroke="#7a7a7a" stroke-width="1.3"/>
<g clip-path="url(#cl3)">
<polygon points="196.7,432.2 223.0,454.0 259.5,451.5 258.5,460.0 248.0,488.3 255.6,518.5 220.5,518.0 193.8,532.8 185.0,504.0 158.6,482.5 185.5,465.5" fill="#445"/>
<polygon points="214.0,486.0 185.5,465.5 196.7,432.2" fill="url(#g18)" stroke="url(#g18)" stroke-width="0.6"/>
<polygon points="214.0,486.0 196.7,432.2 223.0,454.0" fill="url(#g19)" stroke="url(#g19)" stroke-width="0.6"/>
<polygon points="214.0,486.0 191.4,447.8 193.9,440.4" fill="#ffffff" fill-opacity="0.08"/>
<polygon points="214.0,486.0 191.3,448.2 192.9,443.6" fill="#ffffff" fill-opacity="0.10"/>
<polygon points="214.0,486.0 194.2,439.8 195.9,434.5" fill="#000000" fill-opacity="0.13"/>
<polygon points="214.0,486.0 198.2,433.4 202.7,437.2" fill="#000000" fill-opacity="0.15"/>
<polygon points="214.0,486.0 202.2,436.8 206.6,440.4" fill="#000000" fill-opacity="0.07"/>
<polygon points="214.0,486.0 216.0,448.2 221.7,452.9" fill="#000000" fill-opacity="0.07"/>
<line x1="214.0" y1="486.0" x2="196.7" y2="432.2" stroke="#ffffff" stroke-opacity="0.18" stroke-width="1.5"/>
<polygon points="214.0,486.0 223.0,454.0 259.5,457.0" fill="url(#g20)" stroke="url(#g20)" stroke-width="0.6"/>
<polygon points="214.0,486.0 259.5,457.0 248.0,488.3" fill="url(#g21)" stroke="url(#g21)" stroke-width="0.6"/>
<polygon points="214.0,486.0 247.8,456.0 253.4,456.5" fill="#ffffff" fill-opacity="0.08"/>
<polygon points="214.0,486.0 236.8,455.1 241.2,455.5" fill="#000000" fill-opacity="0.07"/>
<polygon points="214.0,486.0 243.8,455.7 250.7,456.3" fill="#ffffff" fill-opacity="0.16"/>
<polygon points="214.0,486.0 256.6,464.9 255.1,468.9" fill="#ffffff" fill-opacity="0.08"/>
<polygon points="214.0,486.0 254.8,469.8 253.1,474.6" fill="#000000" fill-opacity="0.09"/>
<polygon points="214.0,486.0 251.7,478.3 249.0,485.7" fill="#ffffff" fill-opacity="0.12"/>
<line x1="214.0" y1="486.0" x2="259.5" y2="457.0" stroke="#ffffff" stroke-opacity="0.18" stroke-width="1.5"/>
<polygon points="214.0,486.0 248.0,488.3 255.6,518.5" fill="url(#g22)" stroke="url(#g22)" stroke-width="0.6"/>
<polygon points="214.0,486.0 255.6,518.5 220.5,518.0" fill="url(#g23)" stroke="url(#g23)" stroke-width="0.6"/>
<polygon points="214.0,486.0 252.7,506.8 253.8,511.3" fill="#ffffff" fill-opacity="0.09"/>
<polygon points="214.0,486.0 251.3,501.3 252.2,504.9" fill="#ffffff" fill-opacity="0.12"/>
<polygon points="214.0,486.0 250.4,497.7 251.9,504.0" fill="#000000" fill-opacity="0.13"/>
<polygon points="214.0,486.0 248.9,518.4 241.2,518.3" fill="#ffffff" fill-opacity="0.11"/>
<polygon points="214.0,486.0 228.8,518.1 224.5,518.1" fill="#ffffff" fill-opacity="0.15"/>
<polygon points="214.0,486.0 236.6,518.2 232.0,518.2" fill="#ffffff" fill-opacity="0.15"/>
<line x1="214.0" y1="486.0" x2="255.6" y2="518.5" stroke="#ffffff" stroke-opacity="0.18" stroke-width="1.5"/>
<polygon points="214.0,486.0 220.5,518.0 193.8,532.8" fill="url(#g24)" stroke="url(#g24)" stroke-width="0.6"/>
<polygon points="214.0,486.0 193.8,532.8 185.0,504.0" fill="url(#g25)" stroke="url(#g25)" stroke-width="0.6"/>
<polygon points="214.0,486.0 218.7,519.0 214.4,521.4" fill="#ffffff" fill-opacity="0.10"/>
<polygon points="214.0,486.0 208.5,524.6 202.6,527.9" fill="#000000" fill-opacity="0.16"/>
<polygon points="214.0,486.0 200.2,529.2 195.1,532.1" fill="#000000" fill-opacity="0.11"/>
<polygon points="214.0,486.0 187.7,512.8 186.5,508.8" fill="#ffffff" fill-opacity="0.15"/>
<polygon points="214.0,486.0 187.3,511.4 186.5,508.8" fill="#000000" fill-opacity="0.14"/>
<polygon points="214.0,486.0 188.9,516.7 188.0,513.7" fill="#000000" fill-opacity="0.10"/>
<line x1="214.0" y1="486.0" x2="193.8" y2="532.8" stroke="#ffffff" stroke-opacity="0.18" stroke-width="1.5"/>
<polygon points="214.0,486.0 185.0,504.0 158.6,482.5" fill="url(#g26)" stroke="url(#g26)" stroke-width="0.6"/>
<polygon points="214.0,486.0 158.6,482.5 185.5,465.5" fill="url(#g27)" stroke="url(#g27)" stroke-width="0.6"/>
<polygon points="214.0,486.0 183.3,502.6 179.6,499.6" fill="#ffffff" fill-opacity="0.11"/>
<polygon points="214.0,486.0 165.7,488.3 163.5,486.5" fill="#ffffff" fill-opacity="0.10"/>
<polygon points="214.0,486.0 172.8,494.0 167.5,489.8" fill="#ffffff" fill-opacity="0.06"/>
<polygon points="214.0,486.0 159.0,482.2 164.8,478.6" fill="#000000" fill-opacity="0.15"/>
<polygon points="214.0,486.0 161.7,480.5 166.7,477.4" fill="#000000" fill-opacity="0.15"/>
<polygon points="214.0,486.0 179.2,469.5 182.7,467.3" fill="#000000" fill-opacity="0.09"/>
<line x1="214.0" y1="486.0" x2="158.6" y2="482.5" stroke="#ffffff" stroke-opacity="0.18" stroke-width="1.5"/>
<polygon points="234.5,486.9 223.3,488.4 227.0,490.8 221.7,491.7 223.9,494.0 219.5,493.9 221.6,504.3 217.0,495.2 215.5,505.8 213.1,495.6 210.1,499.8 210.9,495.1 206.2,498.9 208.1,493.7 197.7,500.1 205.6,490.7 195.1,490.1 204.4,486.6 201.0,485.8 204.6,484.0 195.5,477.9 205.8,481.0 201.8,476.2 208.8,477.9 205.1,471.1 211.2,476.8 209.2,464.3 214.8,476.4 217.2,465.9 218.6,477.5 224.0,467.3 221.2,479.6 226.4,475.2 222.3,481.1 227.5,482.5 223.5,484.4" fill="#34401e"/>
<polygon points="231.6,488.9 221.7,489.4 229.1,494.8 219.6,492.3 220.5,495.6 215.6,494.3 214.9,503.8 213.2,494.4 207.1,499.0 209.2,492.9 204.0,493.4 206.9,490.5 198.2,488.7 205.6,485.4 203.7,484.4 206.8,481.7 202.0,474.9 209.5,478.9 208.2,470.3 212.5,477.7 212.8,471.4 215.9,477.8 221.0,472.4 219.7,479.8 226.0,476.2 220.9,481.3 226.6,481.5 222.4,486.7" fill="#b0c838"/>
<polygon points="224.9,486.9 221.6,488.5 225.4,494.8 219.5,491.7 221.3,496.2 216.4,493.6 216.6,498.0 213.8,493.9 210.9,499.1 209.7,492.7 206.7,494.7 207.8,490.9 204.0,489.7 206.2,487.4 200.2,486.1 206.5,483.4 202.3,477.7 208.9,479.9 208.5,475.7 210.7,478.8 211.4,473.7 214.6,478.1 217.1,477.5 218.3,479.3 220.5,480.3 220.5,481.4 221.5,482.5 221.9,485.7" fill="#d89a38"/>
<path d="M214.0,477.0 C218.8,480.0 222.0,485.0 222.0,489.5 C222.0,495.0 218.0,497.0 214.0,497.0 C210.0,497.0 206.0,495.0 206.0,489.5 C206.0,485.0 209.2,480.0 214.0,477.0 Z" fill="url(#g28)"/>
<polygon points="216.9,452.4 265.3,449.1 266.0,459.1 217.6,462.4" fill="url(#g29)"/><line x1="217.6" y1="462.4" x2="266.0" y2="459.1" stroke="#2a2a3a" stroke-width="1"/>
<polygon points="248.5,482.0 259.0,523.8 253.2,525.3 242.7,483.5" fill="url(#g30)"/><line x1="242.7" y1="483.5" x2="253.2" y2="525.3" stroke="#2a2a3a" stroke-width="1"/>
<polygon points="152.5,484.0 189.5,460.6 193.2,466.5 156.2,489.9" fill="url(#g31)"/><line x1="156.2" y1="489.9" x2="193.2" y2="466.5" stroke="#2a2a3a" stroke-width="1"/>
<polygon points="181.7,470.5 196.7,425.9 202.4,427.8 187.4,472.5" fill="url(#g32)"/><line x1="187.4" y1="472.5" x2="202.4" y2="427.8" stroke="#2a2a3a" stroke-width="1"/>
</g>
<path d="M195.4,436.0 Q196.7,432.2 199.8,434.8 L220.7,452.1 Q223.0,454.0 226.0,453.8 L256.5,451.7 Q259.5,451.5 259.1,454.5 L258.9,457.0 Q258.5,460.0 257.5,462.8 L249.0,485.5 Q248.0,488.3 248.7,491.2 L254.6,514.6 Q255.6,518.5 251.6,518.4 L223.5,518.0 Q220.5,518.0 217.9,519.5 L197.3,530.9 Q193.8,532.8 192.6,529.0 L185.9,506.9 Q185.0,504.0 182.7,502.1 L161.7,485.0 Q158.6,482.5 162.0,480.4 L183.0,467.1 Q185.5,465.5 186.5,462.7 Z" fill="none" stroke="#5a5a62" stroke-width="1.2"/>
<circle cx="225.4" cy="447.4" r="7.0" fill="#c4c4c4"/><circle cx="224.2" cy="452.2" r="7.4" fill="#f4f4f4"/><circle cx="224.2" cy="452.2" r="5.6" fill="url(#ball2)" stroke="#3a3a3a" stroke-width="1.18"/><path d="M222.8,447.8 L225.7,447.8 L224.8,448.9 L224.8,455.6 L225.7,456.7 L222.8,456.7 L223.8,455.6 L223.8,448.9 Z" fill="#202020"/>
<circle cx="179.7" cy="461.4" r="7.0" fill="#c4c4c4"/><circle cx="183.8" cy="464.2" r="7.4" fill="#f4f4f4"/><circle cx="183.8" cy="464.2" r="5.6" fill="url(#ball2)" stroke="#3a3a3a" stroke-width="1.18"/><path d="M182.3,459.8 L185.2,459.8 L184.2,460.9 L184.2,467.6 L185.2,468.7 L182.3,468.7 L183.2,467.6 L183.2,460.9 Z" fill="#202020"/>
<circle cx="254.7" cy="489.3" r="7.0" fill="#c4c4c4"/><circle cx="249.8" cy="489.0" r="7.4" fill="#f4f4f4"/><circle cx="249.8" cy="489.0" r="5.6" fill="url(#ball2)" stroke="#3a3a3a" stroke-width="1.18"/><path d="M248.3,484.6 L251.2,484.6 L250.2,485.7 L250.2,492.3 L251.2,493.4 L248.3,493.4 L249.2,492.3 L249.2,485.7 Z" fill="#202020"/>
<circle cx="179.4" cy="508.0" r="7.0" fill="#c4c4c4"/><circle cx="183.8" cy="505.5" r="7.4" fill="#f4f4f4"/><circle cx="183.8" cy="505.5" r="5.6" fill="url(#ball2)" stroke="#3a3a3a" stroke-width="1.18"/><path d="M182.3,501.1 L185.2,501.1 L184.2,502.2 L184.2,508.8 L185.2,509.9 L182.3,509.9 L183.2,508.8 L183.2,502.2 Z" fill="#202020"/>
<circle cx="222.0" cy="524.7" r="7.0" fill="#c4c4c4"/><circle cx="221.2" cy="519.8" r="7.4" fill="#f4f4f4"/><circle cx="221.2" cy="519.8" r="5.6" fill="url(#ball2)" stroke="#3a3a3a" stroke-width="1.18"/><path d="M219.8,515.3 L222.7,515.3 L221.8,516.4 L221.8,523.1 L222.7,524.2 L219.8,524.2 L220.8,523.1 L220.8,516.4 Z" fill="#202020"/></g>
<g transform="translate(801,0) scale(-1,1)"><g mask="url(#rmask)"><g transform="translate(0,1094) scale(1,-1)"><path d="M195.4,436.0 Q196.7,432.2 199.8,434.8 L220.7,452.1 Q223.0,454.0 226.0,453.8 L256.5,451.7 Q259.5,451.5 259.1,454.5 L258.9,457.0 Q258.5,460.0 257.5,462.8 L249.0,485.5 Q248.0,488.3 248.7,491.2 L254.6,514.6 Q255.6,518.5 251.6,518.4 L223.5,518.0 Q220.5,518.0 217.9,519.5 L197.3,530.9 Q193.8,532.8 192.6,529.0 L185.9,506.9 Q185.0,504.0 182.7,502.1 L161.7,485.0 Q158.6,482.5 162.0,480.4 L183.0,467.1 Q185.5,465.5 186.5,462.7 Z" fill="#e6eadc"/><path d="M288.2,458.3 Q291.0,453.0 293.9,458.2 L304.2,476.5 Q306.2,480.0 310.1,480.6 L334.0,484.5 Q339.9,485.4 336.1,490.1 L322.5,506.9 Q320.0,510.0 320.4,514.0 L322.8,536.5 Q323.4,542.5 318.0,539.8 L298.1,529.8 Q294.5,528.0 290.9,529.8 L271.0,539.8 Q265.6,542.5 266.0,536.5 L267.4,515.5 Q267.7,511.5 265.9,507.9 L255.9,488.0 Q253.2,482.6 259.2,482.2 L272.0,481.5 Q276.0,481.2 277.9,477.7 Z" fill="#d8d8d8"/></g></g><g clip-path="url(#cl1)">
<polygon points="245.0,187.5 255.5,192.0 265.0,237.0 327.5,266.0 330.4,284.0 279.0,316.0 265.8,383.5 214.0,348.0 144.8,353.2 167.0,287.2 137.9,235.0 202.5,232.2" fill="#445"/>
<polygon points="228.0,290.0 202.5,232.2 254.8,191.0" fill="url(#g1)" stroke="url(#g1)" stroke-width="0.6"/>
<polygon points="228.0,290.0 254.8,191.0 265.0,237.0" fill="url(#g2)" stroke="url(#g2)" stroke-width="0.6"/>
<polygon points="228.0,290.0 215.1,222.3 224.2,215.1" fill="#000000" fill-opacity="0.11"/>
<polygon points="228.0,290.0 227.2,212.8 235.5,206.2" fill="#ffffff" fill-opacity="0.07"/>
<polygon points="228.0,290.0 238.6,203.7 247.5,196.7" fill="#000000" fill-opacity="0.11"/>
<polygon points="228.0,290.0 259.3,211.6 261.3,220.2" fill="#000000" fill-opacity="0.10"/>
<polygon points="228.0,290.0 260.2,215.2 262.5,225.6" fill="#ffffff" fill-opacity="0.16"/>
<polygon points="228.0,290.0 257.2,202.2 258.5,207.7" fill="#ffffff" fill-opacity="0.13"/>
<line x1="228.0" y1="290.0" x2="254.8" y2="191.0" stroke="#ffffff" stroke-opacity="0.18" stroke-width="1.5"/>
<polygon points="228.0,290.0 265.0,237.0 330.4,283.1" fill="url(#g3)" stroke="url(#g3)" stroke-width="0.6"/>
<polygon points="228.0,290.0 330.4,283.1 279.0,316.0" fill="url(#g4)" stroke="url(#g4)" stroke-width="0.6"/>
<polygon points="228.0,290.0 314.1,271.6 321.5,276.8" fill="#000000" fill-opacity="0.11"/>
<polygon points="228.0,290.0 272.4,242.2 282.1,249.1" fill="#000000" fill-opacity="0.13"/>
<polygon points="228.0,290.0 300.1,261.7 306.0,265.9" fill="#ffffff" fill-opacity="0.11"/>
<polygon points="228.0,290.0 327.7,284.8 320.0,289.7" fill="#ffffff" fill-opacity="0.13"/>
<polygon points="228.0,290.0 318.9,290.5 310.6,295.8" fill="#ffffff" fill-opacity="0.09"/>
<polygon points="228.0,290.0 323.8,287.3 316.0,292.3" fill="#ffffff" fill-opacity="0.12"/>
<line x1="228.0" y1="290.0" x2="330.4" y2="283.1" stroke="#ffffff" stroke-opacity="0.18" stroke-width="1.5"/>
<polygon points="228.0,290.0 279.0,316.0 265.8,383.5" fill="url(#g5)" stroke="url(#g5)" stroke-width="0.6"/>
<polygon points="228.0,290.0 265.8,383.5 214.0,348.0" fill="url(#g6)" stroke="url(#g6)" stroke-width="0.6"/>
<polygon points="228.0,290.0 273.1,346.2 271.3,355.0" fill="#ffffff" fill-opacity="0.11"/>
<polygon points="228.0,290.0 272.5,349.1 269.5,364.2" fill="#000000" fill-opacity="0.09"/>
<polygon points="228.0,290.0 271.6,353.9 270.4,359.6" fill="#ffffff" fill-opacity="0.06"/>
<polygon points="228.0,290.0 259.7,379.3 249.9,372.6" fill="#ffffff" fill-opacity="0.10"/>
<polygon points="228.0,290.0 254.6,375.8 245.0,369.3" fill="#000000" fill-opacity="0.15"/>
<polygon points="228.0,290.0 225.3,355.7 214.0,348.0" fill="#000000" fill-opacity="0.11"/>
<line x1="228.0" y1="290.0" x2="265.8" y2="383.5" stroke="#ffffff" stroke-opacity="0.18" stroke-width="1.5"/>
<polygon points="228.0,290.0 214.0,348.0 144.8,353.2" fill="url(#g7)" stroke="url(#g7)" stroke-width="0.6"/>
<polygon points="228.0,290.0 144.8,353.2 167.0,287.2" fill="url(#g8)" stroke="url(#g8)" stroke-width="0.6"/>
<polygon points="228.0,290.0 177.8,350.7 164.1,351.8" fill="#000000" fill-opacity="0.15"/>
<polygon points="228.0,290.0 184.1,350.3 175.5,350.9" fill="#ffffff" fill-opacity="0.12"/>
<polygon points="228.0,290.0 200.9,349.0 191.9,349.7" fill="#000000" fill-opacity="0.11"/>
<polygon points="228.0,290.0 150.2,337.2 155.5,321.4" fill="#000000" fill-opacity="0.15"/>
<polygon points="228.0,290.0 162.1,301.6 164.0,296.3" fill="#000000" fill-opacity="0.12"/>
<polygon points="228.0,290.0 157.1,316.7 162.1,301.7" fill="#000000" fill-opacity="0.10"/>
<line x1="228.0" y1="290.0" x2="144.8" y2="353.2" stroke="#ffffff" stroke-opacity="0.18" stroke-width="1.5"/>
<polygon points="228.0,290.0 167.0,287.2 137.9,235.0" fill="url(#g9)" stroke="url(#g9)" stroke-width="0.6"/>
<polygon points="228.0,290.0 137.9,235.0 202.5,232.2" fill="url(#g10)" stroke="url(#g10)" stroke-width="0.6"/>
<polygon points="228.0,290.0 158.3,271.7 152.4,261.1" fill="#ffffff" fill-opacity="0.09"/>
<polygon points="228.0,290.0 158.7,272.4 155.1,265.9" fill="#ffffff" fill-opacity="0.08"/>
<polygon points="228.0,290.0 154.3,264.4 148.8,254.5" fill="#000000" fill-opacity="0.08"/>
<polygon points="228.0,290.0 184.3,233.0 198.5,232.4" fill="#ffffff" fill-opacity="0.14"/>
<polygon points="228.0,290.0 166.0,233.8 180.7,233.2" fill="#ffffff" fill-opacity="0.08"/>
<polygon points="228.0,290.0 155.6,234.2 166.5,233.8" fill="#000000" fill-opacity="0.09"/>
<line x1="228.0" y1="290.0" x2="137.9" y2="235.0" stroke="#ffffff" stroke-opacity="0.18" stroke-width="1.5"/>
<polygon points="262.7,288.2 245.4,295.0 256.1,303.0 244.0,298.6 260.9,315.8 239.1,304.4 241.8,312.7 232.9,307.5 233.2,325.5 228.9,308.1 221.3,324.1 219.7,306.1 208.1,317.6 216.9,304.3 200.8,306.5 211.4,297.3 193.9,297.7 209.9,290.5 198.4,291.1 210.1,287.3 196.6,278.2 212.4,280.8 206.1,272.8 216.7,275.8 219.0,267.2 223.8,272.3 223.1,263.2 229.4,271.9 231.8,264.1 236.1,273.8 244.1,263.1 241.4,277.8 255.4,272.5 243.4,280.4 261.6,282.3 245.9,286.8" fill="#34401e"/>
<polygon points="256.6,296.4 242.2,297.0 251.9,304.7 238.3,302.1 239.8,308.3 231.9,305.4 227.2,317.2 226.7,305.8 212.5,320.0 219.2,303.2 202.1,306.5 213.7,296.8 200.8,299.3 212.2,291.0 196.2,287.0 213.5,283.6 210.7,277.1 216.3,279.3 215.4,270.4 222.7,275.1 224.7,262.5 231.5,274.6 242.9,260.9 235.9,276.3 248.2,274.5 241.3,281.3 259.5,277.8 243.8,290.7" fill="#b0c838"/>
<polygon points="254.2,292.9 242.6,293.4 247.1,301.9 239.3,299.9 235.3,304.3 233.7,303.8 232.5,309.2 226.9,304.9 224.6,305.4 218.9,301.9 213.5,302.4 214.7,296.8 207.6,299.0 213.1,291.5 201.5,289.2 214.0,284.8 209.0,278.5 216.8,280.1 215.2,267.4 224.3,275.5 227.3,271.5 228.5,275.0 234.7,270.2 235.5,277.1 241.0,273.4 240.3,281.5 251.4,278.6 242.9,289.3" fill="#d89a38"/>
<path d="M228.0,272.0 C237.6,277.7 244.0,287.2 244.0,295.8 C244.0,306.2 236.0,310.0 228.0,310.0 C220.0,310.0 212.0,306.2 212.0,295.8 C212.0,287.2 218.4,277.7 228.0,272.0 Z" fill="url(#g11)"/>
<polygon points="196.9,235.2 247.7,181.8 256.4,190.0 205.6,243.5" fill="url(#g12)"/><line x1="205.6" y1="243.5" x2="256.4" y2="190.0" stroke="#2a2a3a" stroke-width="1"/>
<polygon points="131.8,233.3 208.4,230.0 208.8,240.0 132.2,243.2" fill="url(#g13)"/><line x1="132.2" y1="243.2" x2="208.8" y2="240.0" stroke="#2a2a3a" stroke-width="1"/>
<polygon points="260.4,232.7 333.8,266.7 327.5,280.3 254.1,246.3" fill="url(#g14)"/><line x1="254.1" y1="246.3" x2="327.5" y2="280.3" stroke="#2a2a3a" stroke-width="1"/>
<polygon points="282.1,310.5 266.6,389.8 258.7,388.2 274.3,309.0" fill="url(#g15)"/><line x1="274.3" y1="309.0" x2="258.7" y2="388.2" stroke="#2a2a3a" stroke-width="1"/>
<polygon points="140.9,358.3 167.0,280.9 175.5,283.8 149.5,361.2" fill="url(#g16)"/><line x1="149.5" y1="361.2" x2="175.5" y2="283.8" stroke="#2a2a3a" stroke-width="1"/>
</g>
<path d="M241.6,191.1 Q245.0,187.5 249.6,189.5 L251.8,190.4 Q255.5,192.0 256.3,195.9 L264.4,234.1 Q265.0,237.0 267.7,238.3 L323.9,264.3 Q327.5,266.0 328.1,269.9 L329.8,280.1 Q330.4,284.0 327.0,286.1 L281.5,314.4 Q279.0,316.0 278.4,318.9 L266.7,378.6 Q265.8,383.5 261.6,380.7 L216.5,349.7 Q214.0,348.0 211.0,348.2 L149.7,352.9 Q144.8,353.2 146.3,348.5 L166.0,290.1 Q167.0,287.2 165.5,284.6 L140.3,239.4 Q137.9,235.0 142.9,234.8 L199.5,232.4 Q202.5,232.2 204.6,230.1 Z" fill="none" stroke="#5a5a62" stroke-width="1.2"/>
<circle cx="197.5" cy="225.0" r="7.4" fill="#c4c4c4"/><circle cx="199.8" cy="229.5" r="7.8" fill="#f4f4f4"/><circle cx="199.8" cy="229.5" r="5.9" fill="url(#ball2)" stroke="#3a3a3a" stroke-width="1.25"/><path d="M198.3,224.8 L201.2,224.8 L200.2,226.0 L200.2,233.0 L201.2,234.2 L198.3,234.2 L199.2,233.0 L199.2,226.0 Z" fill="#202020"/>
<circle cx="276.0" cy="239.6" r="7.4" fill="#c4c4c4"/><circle cx="272.6" cy="243.2" r="7.8" fill="#f4f4f4"/><circle cx="272.6" cy="243.2" r="5.9" fill="url(#ball2)" stroke="#3a3a3a" stroke-width="1.25"/><path d="M271.2,238.6 L274.0,238.6 L273.1,239.7 L273.1,246.8 L274.0,247.9 L271.2,247.9 L272.1,246.8 L272.1,239.7 Z" fill="#202020"/>
<circle cx="160.4" cy="287.1" r="7.4" fill="#c4c4c4"/><circle cx="165.4" cy="287.2" r="7.8" fill="#f4f4f4"/><circle cx="165.4" cy="287.2" r="5.9" fill="url(#ball2)" stroke="#3a3a3a" stroke-width="1.25"/><path d="M164.0,282.6 L166.8,282.6 L165.9,283.7 L165.9,290.8 L166.8,291.9 L164.0,291.9 L164.9,290.8 L164.9,283.7 Z" fill="#202020"/>
<circle cx="286.6" cy="321.4" r="7.4" fill="#c4c4c4"/><circle cx="282.2" cy="318.9" r="7.8" fill="#f4f4f4"/><circle cx="282.2" cy="318.9" r="5.9" fill="url(#ball2)" stroke="#3a3a3a" stroke-width="1.25"/><path d="M280.9,314.2 L283.6,314.2 L282.8,315.4 L282.8,322.4 L283.6,323.6 L280.9,323.6 L281.8,322.4 L281.8,315.4 Z" fill="#202020"/>
<circle cx="213.7" cy="355.4" r="7.4" fill="#c4c4c4"/><circle cx="214.9" cy="350.5" r="7.8" fill="#f4f4f4"/><circle cx="214.9" cy="350.5" r="5.9" fill="url(#ball2)" stroke="#3a3a3a" stroke-width="1.25"/><path d="M213.5,345.8 L216.3,345.8 L215.4,347.0 L215.4,354.0 L216.3,355.2 L213.5,355.2 L214.4,354.0 L214.4,347.0 Z" fill="#202020"/>
<path d="M122.1,358.5 Q120.0,354.0 124.8,355.3 L159.6,364.8 Q162.5,365.6 165.2,364.4 L192.9,352.0 Q197.5,350.0 197.8,355.0 L199.3,380.0 Q199.5,383.0 202.0,384.6 L231.3,403.3 Q235.5,406.0 230.9,408.0 L198.1,422.7 Q195.4,423.9 194.0,426.5 L180.4,451.1 Q178.0,455.5 175.3,451.3 L160.4,427.5 Q158.8,425.0 155.8,425.1 L113.8,426.3 Q108.8,426.5 112.5,423.1 L137.8,399.5 Q140.0,397.5 138.7,394.8 Z" fill="#e0e0e0"/>
<polygon points="120.0,354.0 162.5,365.6 163.8,377.5 136.9,371.2" fill="#eaeaea" stroke="#eaeaea" stroke-width="0.6"/>
<polygon points="162.5,365.6 197.5,350.0 190.0,363.8 163.8,377.5" fill="#f8f8f8" stroke="#f8f8f8" stroke-width="0.6"/>
<polygon points="197.5,350.0 199.5,383.0 191.2,395.0 190.0,363.8" fill="#bbbbbb" stroke="#bbbbbb" stroke-width="0.6"/>
<polygon points="199.5,383.0 235.5,406.0 213.0,405.0 191.2,395.0" fill="#e0e0e0" stroke="#e0e0e0" stroke-width="0.6"/>
<polygon points="235.5,406.0 195.4,423.9 183.0,417.0 213.0,405.0" fill="#aaaaaa" stroke="#aaaaaa" stroke-width="0.6"/>
<polygon points="195.4,423.9 178.0,455.5 177.5,442.5 183.0,417.0" fill="#adadad" stroke="#adadad" stroke-width="0.6"/>
<polygon points="178.0,455.5 158.8,425.0 157.5,420.0 177.5,442.5" fill="#d5d5d5" stroke="#d5d5d5" stroke-width="0.6"/>
<polygon points="158.8,425.0 108.8,426.5 128.8,421.2 157.5,420.0" fill="#b1b1b1" stroke="#b1b1b1" stroke-width="0.6"/>
<polygon points="108.8,426.5 140.0,397.5 147.5,397.5 128.8,421.2" fill="#f9f9f9" stroke="#f9f9f9" stroke-width="0.6"/>
<polygon points="140.0,397.5 120.0,354.0 136.9,371.2 147.5,397.5" fill="#dadada" stroke="#dadada" stroke-width="0.6"/>
<path d="M122.1,358.5 Q120.0,354.0 124.8,355.3 L159.6,364.8 Q162.5,365.6 165.2,364.4 L192.9,352.0 Q197.5,350.0 197.8,355.0 L199.3,380.0 Q199.5,383.0 202.0,384.6 L231.3,403.3 Q235.5,406.0 230.9,408.0 L198.1,422.7 Q195.4,423.9 194.0,426.5 L180.4,451.1 Q178.0,455.5 175.3,451.3 L160.4,427.5 Q158.8,425.0 155.8,425.1 L113.8,426.3 Q108.8,426.5 112.5,423.1 L137.8,399.5 Q140.0,397.5 138.7,394.8 Z" fill="none" stroke="#7a7a7a" stroke-width="1.3"/>
<path d="M138.0,374.0 Q136.9,371.2 139.8,371.9 L161.8,377.0 Q163.8,377.5 165.5,376.6 L187.3,365.1 Q190.0,363.8 190.1,366.7 L191.2,393.0 Q191.2,395.0 193.1,395.8 L210.3,403.7 Q213.0,405.0 210.2,406.1 L184.9,416.3 Q183.0,417.0 182.6,419.0 L178.1,439.6 Q177.5,442.5 175.5,440.3 L158.8,421.5 Q157.5,420.0 155.5,420.1 L131.7,421.1 Q128.8,421.2 130.6,418.9 L146.3,399.1 Q147.5,397.5 146.8,395.6 Z" fill="url(#pave)" stroke="#8a8a8a" stroke-width="1.4"/>
<path d="M134.4,370.9 Q133.3,368.1 136.2,368.8 L161.5,374.7 Q163.5,375.2 165.2,374.2 L189.4,361.6 Q192.1,360.2 192.2,363.2 L193.3,391.6 Q193.4,393.6 195.2,394.4 L215.8,403.9 Q218.6,405.1 215.8,406.3 L186.8,417.9 Q184.9,418.6 184.5,420.6 L179.4,444.3 Q178.7,447.2 176.7,445.0 L157.9,423.7 Q156.6,422.2 154.6,422.3 L127.0,423.5 Q124.0,423.7 125.9,421.3 L143.7,398.7 Q145.0,397.1 144.2,395.3 Z" fill="none" stroke="#fafafa" stroke-width="1"/>
<g clip-path="url(#cpave)"><rect x="154.1" y="372.8" width="0.9" height="1.3" fill="#6a6a70" fill-opacity="0.58"/><rect x="130.2" y="403.1" width="1.2" height="0.9" fill="#ffffff" fill-opacity="0.45"/><rect x="163.2" y="430.3" width="1.0" height="1.4" fill="#ffffff" fill-opacity="0.87"/><rect x="176.9" y="393.7" width="0.8" height="1.7" fill="#6a6a70" fill-opacity="0.54"/><rect x="138.0" y="370.0" width="1.6" height="1.0" fill="#ffffff" fill-opacity="0.69"/><rect x="182.5" y="391.7" width="0.9" height="0.9" fill="#ffffff" fill-opacity="0.50"/><rect x="186.2" y="396.3" width="1.4" height="1.3" fill="#ffffff" fill-opacity="0.55"/><rect x="196.5" y="419.4" width="1.4" height="1.3" fill="#ffffff" fill-opacity="0.84"/><rect x="190.7" y="384.5" width="0.9" height="1.2" fill="#6a6a70" fill-opacity="0.78"/><rect x="138.7" y="401.6" width="1.5" height="1.6" fill="#ffffff" fill-opacity="0.69"/><rect x="203.8" y="386.7" width="1.4" height="1.4" fill="#6a6a70" fill-opacity="0.63"/><rect x="200.6" y="440.3" width="1.5" height="0.9" fill="#ffffff" fill-opacity="0.75"/><rect x="183.2" y="444.4" width="1.1" height="1.2" fill="#6a6a70" fill-opacity="0.73"/><rect x="127.0" y="399.2" width="0.9" height="0.9" fill="#ffffff" fill-opacity="0.78"/><rect x="136.6" y="381.0" width="1.7" height="0.9" fill="#ffffff" fill-opacity="0.62"/><rect x="174.4" y="435.1" width="1.7" height="1.1" fill="#6a6a70" fill-opacity="0.61"/><rect x="157.3" y="435.2" width="1.0" height="1.0" fill="#6a6a70" fill-opacity="0.52"/><rect x="146.0" y="401.2" width="1.1" height="0.8" fill="#ffffff" fill-opacity="0.61"/><rect x="158.2" y="408.1" width="1.5" height="1.3" fill="#6a6a70" fill-opacity="0.71"/><rect x="185.9" y="364.6" width="1.6" height="1.7" fill="#6a6a70" fill-opacity="0.80"/><rect x="160.3" y="393.9" width="1.4" height="0.9" fill="#ffffff" fill-opacity="0.43"/><rect x="143.8" y="373.8" width="0.9" height="0.8" fill="#ffffff" fill-opacity="0.48"/><rect x="134.1" y="390.9" width="1.7" height="1.4" fill="#ffffff" fill-opacity="0.47"/><rect x="147.7" y="389.5" width="0.9" height="1.6" fill="#ffffff" fill-opacity="0.90"/><rect x="166.9" y="401.1" width="0.9" height="1.1" fill="#ffffff" fill-opacity="0.53"/><rect x="199.6" y="373.7" width="1.8" height="1.3" fill="#ffffff" fill-opacity="0.47"/><rect x="173.9" y="362.3" width="1.8" height="1.7" fill="#ffffff" fill-opacity="0.75"/><rect x="148.5" y="391.2" width="1.6" height="1.3" fill="#ffffff" fill-opacity="0.79"/><rect x="154.7" y="379.0" width="1.8" height="1.7" fill="#6a6a70" fill-opacity="0.80"/><rect x="198.6" y="422.9" width="1.3" height="1.2" fill="#ffffff" fill-opacity="0.41"/><rect x="127.5" y="383.8" width="1.5" height="1.8" fill="#ffffff" fill-opacity="0.62"/><rect x="209.3" y="444.0" width="1.2" height="1.0" fill="#6a6a70" fill-opacity="0.51"/><rect x="142.7" y="377.4" width="1.7" height="1.6" fill="#6a6a70" fill-opacity="0.64"/><rect x="183.8" y="428.0" width="1.5" height="1.7" fill="#ffffff" fill-opacity="0.79"/><rect x="192.5" y="400.6" width="1.6" height="1.1" fill="#ffffff" fill-opacity="0.80"/><rect x="212.4" y="393.6" width="1.7" height="1.5" fill="#ffffff" fill-opacity="0.49"/><rect x="136.4" y="372.8" width="1.6" height="0.9" fill="#6a6a70" fill-opacity="0.81"/><rect x="213.2" y="415.9" width="1.3" height="0.9" fill="#ffffff" fill-opacity="0.41"/><rect x="212.4" y="415.2" width="1.7" height="1.2" fill="#ffffff" fill-opacity="0.84"/><rect x="199.4" y="377.9" width="1.1" height="1.0" fill="#ffffff" fill-opacity="0.69"/><rect x="148.3" y="395.6" width="1.7" height="1.2" fill="#ffffff" fill-opacity="0.63"/><rect x="177.5" y="436.9" width="1.7" height="1.3" fill="#ffffff" fill-opacity="0.67"/><rect x="172.1" y="361.6" width="1.0" height="0.8" fill="#ffffff" fill-opacity="0.80"/><rect x="140.5" y="400.2" width="1.4" height="1.1" fill="#6a6a70" fill-opacity="0.66"/><rect x="175.0" y="426.7" width="1.4" height="1.0" fill="#ffffff" fill-opacity="0.54"/><rect x="194.5" y="403.2" width="1.6" height="1.7" fill="#ffffff" fill-opacity="0.62"/><rect x="180.1" y="403.0" width="1.5" height="1.3" fill="#ffffff" fill-opacity="0.67"/><rect x="168.0" y="440.0" width="1.7" height="1.7" fill="#6a6a70" fill-opacity="0.53"/><rect x="175.4" y="440.2" width="0.9" height="0.9" fill="#6a6a70" fill-opacity="0.62"/><rect x="131.5" y="380.5" width="1.5" height="1.6" fill="#ffffff" fill-opacity="0.85"/><rect x="138.9" y="420.9" width="0.9" height="1.7" fill="#6a6a70" fill-opacity="0.88"/><rect x="144.8" y="441.0" width="1.3" height="1.8" fill="#ffffff" fill-opacity="0.82"/><rect x="139.5" y="396.7" width="1.1" height="1.0" fill="#ffffff" fill-opacity="0.56"/><rect x="190.0" y="361.7" width="1.2" height="0.8" fill="#ffffff" fill-opacity="0.57"/><rect x="181.2" y="403.5" width="1.8" height="1.6" fill="#ffffff" fill-opacity="0.89"/><rect x="134.4" y="382.6" width="1.6" height="1.1" fill="#ffffff" fill-opacity="0.46"/><rect x="163.0" y="437.5" width="1.1" height="0.9" fill="#6a6a70" fill-opacity="0.86"/><rect x="176.4" y="419.5" width="0.9" height="1.5" fill="#ffffff" fill-opacity="0.61"/><rect x="131.5" y="439.8" width="1.6" height="0.9" fill="#6a6a70" fill-opacity="0.83"/><rect x="131.0" y="433.3" width="1.1" height="1.4" fill="#ffffff" fill-opacity="0.86"/><rect x="149.1" y="371.0" width="1.0" height="0.9" fill="#ffffff" fill-opacity="0.48"/><rect x="129.5" y="377.2" width="1.1" height="1.6" fill="#ffffff" fill-opacity="0.54"/><rect x="170.0" y="375.1" width="0.8" height="1.1" fill="#ffffff" fill-opacity="0.41"/><rect x="191.0" y="406.8" width="1.3" height="1.7" fill="#ffffff" fill-opacity="0.45"/><rect x="198.7" y="396.7" width="1.6" height="1.2" fill="#ffffff" fill-opacity="0.65"/><rect x="186.9" y="443.5" width="1.6" height="1.5" fill="#ffffff" fill-opacity="0.72"/><rect x="161.4" y="389.5" width="0.9" height="0.9" fill="#ffffff" fill-opacity="0.77"/><rect x="148.0" y="373.9" width="1.6" height="1.7" fill="#ffffff" fill-opacity="0.74"/><rect x="150.4" y="380.6" width="1.3" height="1.0" fill="#ffffff" fill-opacity="0.62"/><rect x="148.7" y="441.8" width="1.3" height="1.0" fill="#6a6a70" fill-opacity="0.88"/><rect x="152.9" y="390.3" width="1.2" height="1.3" fill="#ffffff" fill-opacity="0.65"/><rect x="143.1" y="402.9" width="1.1" height="0.9" fill="#ffffff" fill-opacity="0.60"/><rect x="128.8" y="361.9" width="1.0" height="1.4" fill="#ffffff" fill-opacity="0.66"/><rect x="192.5" y="415.9" width="1.7" height="1.2" fill="#6a6a70" fill-opacity="0.56"/><rect x="213.6" y="372.7" width="1.4" height="0.8" fill="#6a6a70" fill-opacity="0.82"/><rect x="205.3" y="413.3" width="1.6" height="0.9" fill="#6a6a70" fill-opacity="0.66"/><rect x="170.4" y="431.0" width="1.6" height="1.4" fill="#6a6a70" fill-opacity="0.85"/><rect x="186.5" y="418.9" width="0.8" height="0.9" fill="#ffffff" fill-opacity="0.58"/><rect x="134.4" y="431.0" width="1.4" height="1.4" fill="#ffffff" fill-opacity="0.74"/><rect x="169.0" y="360.3" width="1.5" height="1.3" fill="#6a6a70" fill-opacity="0.67"/><rect x="184.3" y="365.6" width="1.1" height="0.9" fill="#6a6a70" fill-opacity="0.53"/><rect x="190.6" y="377.4" width="1.8" height="1.3" fill="#6a6a70" fill-opacity="0.59"/><rect x="168.1" y="418.1" width="1.4" height="1.4" fill="#6a6a70" fill-opacity="0.44"/><rect x="138.3" y="381.6" width="1.1" height="1.4" fill="#6a6a70" fill-opacity="0.41"/><rect x="130.5" y="382.8" width="1.5" height="1.5" fill="#6a6a70" fill-opacity="0.55"/><rect x="171.5" y="399.5" width="0.9" height="1.7" fill="#ffffff" fill-opacity="0.50"/><rect x="213.0" y="439.6" width="1.3" height="1.6" fill="#ffffff" fill-opacity="0.88"/><rect x="165.5" y="382.8" width="1.7" height="1.0" fill="#ffffff" fill-opacity="0.69"/><rect x="137.8" y="404.5" width="0.9" height="1.6" fill="#6a6a70" fill-opacity="0.65"/><rect x="204.8" y="419.8" width="1.7" height="1.3" fill="#ffffff" fill-opacity="0.41"/><rect x="125.3" y="401.8" width="1.1" height="0.9" fill="#ffffff" fill-opacity="0.57"/><rect x="153.4" y="431.4" width="1.6" height="1.6" fill="#ffffff" fill-opacity="0.46"/><rect x="208.4" y="420.6" width="1.1" height="1.2" fill="#6a6a70" fill-opacity="0.60"/><rect x="214.9" y="410.1" width="1.2" height="1.1" fill="#ffffff" fill-opacity="0.42"/><rect x="134.2" y="430.9" width="1.7" height="1.0" fill="#ffffff" fill-opacity="0.53"/><rect x="171.0" y="376.1" width="1.8" height="1.7" fill="#ffffff" fill-opacity="0.81"/><rect x="181.8" y="437.6" width="1.3" height="1.5" fill="#6a6a70" fill-opacity="0.42"/><rect x="190.9" y="398.3" width="1.4" height="1.1" fill="#6a6a70" fill-opacity="0.42"/><rect x="208.4" y="370.8" width="1.1" height="1.1" fill="#ffffff" fill-opacity="0.77"/><rect x="212.9" y="382.1" width="1.1" height="1.4" fill="#6a6a70" fill-opacity="0.60"/><rect x="140.1" y="373.7" width="1.7" height="1.3" fill="#ffffff" fill-opacity="0.51"/><rect x="206.6" y="444.7" width="0.9" height="1.0" fill="#ffffff" fill-opacity="0.45"/><rect x="155.8" y="367.7" width="1.1" height="1.4" fill="#ffffff" fill-opacity="0.84"/><rect x="192.5" y="395.1" width="1.3" height="1.2" fill="#ffffff" fill-opacity="0.57"/><rect x="130.6" y="383.6" width="0.9" height="1.3" fill="#6a6a70" fill-opacity="0.71"/><rect x="202.7" y="378.4" width="1.0" height="1.2" fill="#ffffff" fill-opacity="0.62"/><rect x="210.9" y="432.1" width="0.8" height="0.8" fill="#6a6a70" fill-opacity="0.75"/><rect x="205.6" y="400.2" width="0.8" height="1.2" fill="#ffffff" fill-opacity="0.86"/><rect x="199.3" y="432.7" width="1.0" height="0.9" fill="#6a6a70" fill-opacity="0.48"/><rect x="172.0" y="418.0" width="1.5" height="1.4" fill="#6a6a70" fill-opacity="0.78"/><rect x="166.2" y="406.9" width="1.6" height="1.0" fill="#ffffff" fill-opacity="0.86"/><rect x="183.1" y="385.8" width="1.1" height="1.4" fill="#ffffff" fill-opacity="0.75"/><rect x="135.1" y="366.0" width="1.4" height="1.2" fill="#ffffff" fill-opacity="0.51"/><rect x="179.1" y="360.9" width="1.3" height="1.8" fill="#ffffff" fill-opacity="0.72"/><rect x="204.5" y="400.4" width="1.0" height="1.8" fill="#ffffff" fill-opacity="0.75"/><rect x="152.7" y="361.9" width="1.5" height="1.2" fill="#ffffff" fill-opacity="0.53"/><rect x="185.1" y="438.6" width="0.8" height="1.1" fill="#ffffff" fill-opacity="0.61"/><rect x="186.4" y="376.8" width="1.5" height="1.3" fill="#6a6a70" fill-opacity="0.50"/><rect x="212.3" y="386.5" width="1.0" height="1.0" fill="#6a6a70" fill-opacity="0.78"/><rect x="151.5" y="440.9" width="1.0" height="1.0" fill="#ffffff" fill-opacity="0.61"/><rect x="184.9" y="440.6" width="1.2" height="1.0" fill="#ffffff" fill-opacity="0.89"/><rect x="137.8" y="364.4" width="1.2" height="1.7" fill="#ffffff" fill-opacity="0.84"/><rect x="190.9" y="444.8" width="1.1" height="1.0" fill="#6a6a70" fill-opacity="0.87"/><rect x="192.2" y="362.7" width="1.2" height="1.2" fill="#6a6a70" fill-opacity="0.57"/><rect x="140.2" y="360.2" width="1.2" height="1.8" fill="#ffffff" fill-opacity="0.46"/><rect x="211.8" y="377.6" width="1.6" height="1.6" fill="#ffffff" fill-opacity="0.62"/><rect x="129.4" y="400.2" width="1.7" height="1.0" fill="#ffffff" fill-opacity="0.58"/><rect x="205.7" y="362.6" width="1.6" height="1.6" fill="#ffffff" fill-opacity="0.42"/><rect x="128.1" y="365.3" width="1.1" height="1.5" fill="#6a6a70" fill-opacity="0.85"/><rect x="155.5" y="383.1" width="1.4" height="1.1" fill="#6a6a70" fill-opacity="0.76"/><rect x="153.5" y="383.4" width="1.6" height="1.7" fill="#ffffff" fill-opacity="0.72"/><rect x="209.9" y="362.1" width="1.3" height="1.8" fill="#ffffff" fill-opacity="0.88"/><rect x="159.8" y="381.3" width="1.3" height="1.7" fill="#ffffff" fill-opacity="0.49"/><rect x="197.2" y="422.8" width="1.6" height="1.4" fill="#6a6a70" fill-opacity="0.56"/><rect x="153.8" y="390.8" width="0.9" height="1.0" fill="#6a6a70" fill-opacity="0.78"/><rect x="147.3" y="365.5" width="1.4" height="1.1" fill="#ffffff" fill-opacity="0.89"/><rect x="204.5" y="444.0" width="0.9" height="0.9" fill="#ffffff" fill-opacity="0.65"/><rect x="188.9" y="398.0" width="1.2" height="1.4" fill="#ffffff" fill-opacity="0.74"/><rect x="192.3" y="432.0" width="0.9" height="1.6" fill="#6a6a70" fill-opacity="0.55"/><rect x="176.0" y="391.7" width="1.0" height="1.0" fill="#6a6a70" fill-opacity="0.52"/></g>
<circle cx="167.5" cy="400.5" r="18" fill="url(#zirc)" stroke="#9a9a9a" stroke-width="0.8"/>
<path d="M171.3,402.5 L177.9,404.9 M169.8,404.2 L172.7,410.6 M167.5,404.3 L165.1,410.9 M165.8,402.8 L159.4,405.7 M165.7,400.5 L159.1,398.1 M167.2,398.8 L164.3,392.4 M169.5,398.7 L171.9,392.1 M171.2,400.2 L177.6,397.3" stroke="#3a3a48" stroke-width="1.7" stroke-linecap="round"/>
<path d="M179.9,402.6 L183.4,403.0 M178.6,406.9 L181.7,408.6 M175.8,410.4 L178.0,413.1 M171.8,412.5 L172.8,415.9 M167.4,412.9 L167.0,416.4 M163.1,411.6 L161.4,414.7 M159.6,408.8 L156.9,411.0 M157.5,404.8 L154.1,405.8 M157.1,400.4 L153.6,400.0 M158.4,396.1 L155.3,394.4 M161.2,392.6 L159.0,389.9 M165.2,390.5 L164.2,387.1 M169.6,390.1 L170.0,386.6 M173.9,391.4 L175.6,388.3 M177.4,394.2 L180.1,392.0 M179.5,398.2 L182.9,397.2" stroke="#8a8a98" stroke-width="1" stroke-linecap="round"/>
<circle cx="168.5" cy="402.5" r="2.2" fill="#fff"/>
<ellipse cx="150.6" cy="385" rx="4.6" ry="5" fill="#5a5a60"/>
<ellipse cx="178.75" cy="380.3" rx="4.6" ry="5" fill="#5a5a60"/>
<ellipse cx="191.9" cy="402.8" rx="4.6" ry="5" fill="#5a5a60"/>
<ellipse cx="174" cy="422.5" rx="4.6" ry="5" fill="#5a5a60"/>
<ellipse cx="147.8" cy="411.25" rx="4.6" ry="5" fill="#5a5a60"/>
<path d="M288.2,458.3 Q291.0,453.0 293.9,458.2 L304.2,476.5 Q306.2,480.0 310.1,480.6 L334.0,484.5 Q339.9,485.4 336.1,490.1 L322.5,506.9 Q320.0,510.0 320.4,514.0 L322.8,536.5 Q323.4,542.5 318.0,539.8 L298.1,529.8 Q294.5,528.0 290.9,529.8 L271.0,539.8 Q265.6,542.5 266.0,536.5 L267.4,515.5 Q267.7,511.5 265.9,507.9 L255.9,488.0 Q253.2,482.6 259.2,482.2 L272.0,481.5 Q276.0,481.2 277.9,477.7 Z" fill="url(#silv3)"/>
<g clip-path="url(#cl4)"><polygon points="305.5,477.9 341.2,483.6 339.9,491.5 304.3,485.8" fill="url(#g17)"/></g>
<path d="M288.2,458.3 Q291.0,453.0 293.9,458.2 L304.2,476.5 Q306.2,480.0 310.1,480.6 L334.0,484.5 Q339.9,485.4 336.1,490.1 L322.5,506.9 Q320.0,510.0 320.4,514.0 L322.8,536.5 Q323.4,542.5 318.0,539.8 L298.1,529.8 Q294.5,528.0 290.9,529.8 L271.0,539.8 Q265.6,542.5 266.0,536.5 L267.4,515.5 Q267.7,511.5 265.9,507.9 L255.9,488.0 Q253.2,482.6 259.2,482.2 L272.0,481.5 Q276.0,481.2 277.9,477.7 Z" fill="none" stroke="#7a7a7a" stroke-width="1.3"/>
<g clip-path="url(#cl3)">
<polygon points="196.7,432.2 223.0,454.0 259.5,451.5 258.5,460.0 248.0,488.3 255.6,518.5 220.5,518.0 193.8,532.8 185.0,504.0 158.6,482.5 185.5,465.5" fill="#445"/>
<polygon points="214.0,486.0 185.5,465.5 196.7,432.2" fill="url(#g18)" stroke="url(#g18)" stroke-width="0.6"/>
<polygon points="214.0,486.0 196.7,432.2 223.0,454.0" fill="url(#g19)" stroke="url(#g19)" stroke-width="0.6"/>
<polygon points="214.0,486.0 191.4,447.8 193.9,440.4" fill="#ffffff" fill-opacity="0.08"/>
<polygon points="214.0,486.0 191.3,448.2 192.9,443.6" fill="#ffffff" fill-opacity="0.10"/>
<polygon points="214.0,486.0 194.2,439.8 195.9,434.5" fill="#000000" fill-opacity="0.13"/>
<polygon points="214.0,486.0 198.2,433.4 202.7,437.2" fill="#000000" fill-opacity="0.15"/>
<polygon points="214.0,486.0 202.2,436.8 206.6,440.4" fill="#000000" fill-opacity="0.07"/>
<polygon points="214.0,486.0 216.0,448.2 221.7,452.9" fill="#000000" fill-opacity="0.07"/>
<line x1="214.0" y1="486.0" x2="196.7" y2="432.2" stroke="#ffffff" stroke-opacity="0.18" stroke-width="1.5"/>
<polygon points="214.0,486.0 223.0,454.0 259.5,457.0" fill="url(#g20)" stroke="url(#g20)" stroke-width="0.6"/>
<polygon points="214.0,486.0 259.5,457.0 248.0,488.3" fill="url(#g21)" stroke="url(#g21)" stroke-width="0.6"/>
<polygon points="214.0,486.0 247.8,456.0 253.4,456.5" fill="#ffffff" fill-opacity="0.08"/>
<polygon points="214.0,486.0 236.8,455.1 241.2,455.5" fill="#000000" fill-opacity="0.07"/>
<polygon points="214.0,486.0 243.8,455.7 250.7,456.3" fill="#ffffff" fill-opacity="0.16"/>
<polygon points="214.0,486.0 256.6,464.9 255.1,468.9" fill="#ffffff" fill-opacity="0.08"/>
<polygon points="214.0,486.0 254.8,469.8 253.1,474.6" fill="#000000" fill-opacity="0.09"/>
<polygon points="214.0,486.0 251.7,478.3 249.0,485.7" fill="#ffffff" fill-opacity="0.12"/>
<line x1="214.0" y1="486.0" x2="259.5" y2="457.0" stroke="#ffffff" stroke-opacity="0.18" stroke-width="1.5"/>
<polygon points="214.0,486.0 248.0,488.3 255.6,518.5" fill="url(#g22)" stroke="url(#g22)" stroke-width="0.6"/>
<polygon points="214.0,486.0 255.6,518.5 220.5,518.0" fill="url(#g23)" stroke="url(#g23)" stroke-width="0.6"/>
<polygon points="214.0,486.0 252.7,506.8 253.8,511.3" fill="#ffffff" fill-opacity="0.09"/>
<polygon points="214.0,486.0 251.3,501.3 252.2,504.9" fill="#ffffff" fill-opacity="0.12"/>
<polygon points="214.0,486.0 250.4,497.7 251.9,504.0" fill="#000000" fill-opacity="0.13"/>
<polygon points="214.0,486.0 248.9,518.4 241.2,518.3" fill="#ffffff" fill-opacity="0.11"/>
<polygon points="214.0,486.0 228.8,518.1 224.5,518.1" fill="#ffffff" fill-opacity="0.15"/>
<polygon points="214.0,486.0 236.6,518.2 232.0,518.2" fill="#ffffff" fill-opacity="0.15"/>
<line x1="214.0" y1="486.0" x2="255.6" y2="518.5" stroke="#ffffff" stroke-opacity="0.18" stroke-width="1.5"/>
<polygon points="214.0,486.0 220.5,518.0 193.8,532.8" fill="url(#g24)" stroke="url(#g24)" stroke-width="0.6"/>
<polygon points="214.0,486.0 193.8,532.8 185.0,504.0" fill="url(#g25)" stroke="url(#g25)" stroke-width="0.6"/>
<polygon points="214.0,486.0 218.7,519.0 214.4,521.4" fill="#ffffff" fill-opacity="0.10"/>
<polygon points="214.0,486.0 208.5,524.6 202.6,527.9" fill="#000000" fill-opacity="0.16"/>
<polygon points="214.0,486.0 200.2,529.2 195.1,532.1" fill="#000000" fill-opacity="0.11"/>
<polygon points="214.0,486.0 187.7,512.8 186.5,508.8" fill="#ffffff" fill-opacity="0.15"/>
<polygon points="214.0,486.0 187.3,511.4 186.5,508.8" fill="#000000" fill-opacity="0.14"/>
<polygon points="214.0,486.0 188.9,516.7 188.0,513.7" fill="#000000" fill-opacity="0.10"/>
<line x1="214.0" y1="486.0" x2="193.8" y2="532.8" stroke="#ffffff" stroke-opacity="0.18" stroke-width="1.5"/>
<polygon points="214.0,486.0 185.0,504.0 158.6,482.5" fill="url(#g26)" stroke="url(#g26)" stroke-width="0.6"/>
<polygon points="214.0,486.0 158.6,482.5 185.5,465.5" fill="url(#g27)" stroke="url(#g27)" stroke-width="0.6"/>
<polygon points="214.0,486.0 183.3,502.6 179.6,499.6" fill="#ffffff" fill-opacity="0.11"/>
<polygon points="214.0,486.0 165.7,488.3 163.5,486.5" fill="#ffffff" fill-opacity="0.10"/>
<polygon points="214.0,486.0 172.8,494.0 167.5,489.8" fill="#ffffff" fill-opacity="0.06"/>
<polygon points="214.0,486.0 159.0,482.2 164.8,478.6" fill="#000000" fill-opacity="0.15"/>
<polygon points="214.0,486.0 161.7,480.5 166.7,477.4" fill="#000000" fill-opacity="0.15"/>
<polygon points="214.0,486.0 179.2,469.5 182.7,467.3" fill="#000000" fill-opacity="0.09"/>
<line x1="214.0" y1="486.0" x2="158.6" y2="482.5" stroke="#ffffff" stroke-opacity="0.18" stroke-width="1.5"/>
<polygon points="234.5,486.9 223.3,488.4 227.0,490.8 221.7,491.7 223.9,494.0 219.5,493.9 221.6,504.3 217.0,495.2 215.5,505.8 213.1,495.6 210.1,499.8 210.9,495.1 206.2,498.9 208.1,493.7 197.7,500.1 205.6,490.7 195.1,490.1 204.4,486.6 201.0,485.8 204.6,484.0 195.5,477.9 205.8,481.0 201.8,476.2 208.8,477.9 205.1,471.1 211.2,476.8 209.2,464.3 214.8,476.4 217.2,465.9 218.6,477.5 224.0,467.3 221.2,479.6 226.4,475.2 222.3,481.1 227.5,482.5 223.5,484.4" fill="#34401e"/>
<polygon points="231.6,488.9 221.7,489.4 229.1,494.8 219.6,492.3 220.5,495.6 215.6,494.3 214.9,503.8 213.2,494.4 207.1,499.0 209.2,492.9 204.0,493.4 206.9,490.5 198.2,488.7 205.6,485.4 203.7,484.4 206.8,481.7 202.0,474.9 209.5,478.9 208.2,470.3 212.5,477.7 212.8,471.4 215.9,477.8 221.0,472.4 219.7,479.8 226.0,476.2 220.9,481.3 226.6,481.5 222.4,486.7" fill="#b0c838"/>
<polygon points="224.9,486.9 221.6,488.5 225.4,494.8 219.5,491.7 221.3,496.2 216.4,493.6 216.6,498.0 213.8,493.9 210.9,499.1 209.7,492.7 206.7,494.7 207.8,490.9 204.0,489.7 206.2,487.4 200.2,486.1 206.5,483.4 202.3,477.7 208.9,479.9 208.5,475.7 210.7,478.8 211.4,473.7 214.6,478.1 217.1,477.5 218.3,479.3 220.5,480.3 220.5,481.4 221.5,482.5 221.9,485.7" fill="#d89a38"/>
<path d="M214.0,477.0 C218.8,480.0 222.0,485.0 222.0,489.5 C222.0,495.0 218.0,497.0 214.0,497.0 C210.0,497.0 206.0,495.0 206.0,489.5 C206.0,485.0 209.2,480.0 214.0,477.0 Z" fill="url(#g28)"/>
<polygon points="216.9,452.4 265.3,449.1 266.0,459.1 217.6,462.4" fill="url(#g29)"/><line x1="217.6" y1="462.4" x2="266.0" y2="459.1" stroke="#2a2a3a" stroke-width="1"/>
<polygon points="248.5,482.0 259.0,523.8 253.2,525.3 242.7,483.5" fill="url(#g30)"/><line x1="242.7" y1="483.5" x2="253.2" y2="525.3" stroke="#2a2a3a" stroke-width="1"/>
<polygon points="152.5,484.0 189.5,460.6 193.2,466.5 156.2,489.9" fill="url(#g31)"/><line x1="156.2" y1="489.9" x2="193.2" y2="466.5" stroke="#2a2a3a" stroke-width="1"/>
<polygon points="181.7,470.5 196.7,425.9 202.4,427.8 187.4,472.5" fill="url(#g32)"/><line x1="187.4" y1="472.5" x2="202.4" y2="427.8" stroke="#2a2a3a" stroke-width="1"/>
</g>
<path d="M195.4,436.0 Q196.7,432.2 199.8,434.8 L220.7,452.1 Q223.0,454.0 226.0,453.8 L256.5,451.7 Q259.5,451.5 259.1,454.5 L258.9,457.0 Q258.5,460.0 257.5,462.8 L249.0,485.5 Q248.0,488.3 248.7,491.2 L254.6,514.6 Q255.6,518.5 251.6,518.4 L223.5,518.0 Q220.5,518.0 217.9,519.5 L197.3,530.9 Q193.8,532.8 192.6,529.0 L185.9,506.9 Q185.0,504.0 182.7,502.1 L161.7,485.0 Q158.6,482.5 162.0,480.4 L183.0,467.1 Q185.5,465.5 186.5,462.7 Z" fill="none" stroke="#5a5a62" stroke-width="1.2"/>
<circle cx="225.4" cy="447.4" r="7.0" fill="#c4c4c4"/><circle cx="224.2" cy="452.2" r="7.4" fill="#f4f4f4"/><circle cx="224.2" cy="452.2" r="5.6" fill="url(#ball2)" stroke="#3a3a3a" stroke-width="1.18"/><path d="M222.8,447.8 L225.7,447.8 L224.8,448.9 L224.8,455.6 L225.7,456.7 L222.8,456.7 L223.8,455.6 L223.8,448.9 Z" fill="#202020"/>
<circle cx="179.7" cy="461.4" r="7.0" fill="#c4c4c4"/><circle cx="183.8" cy="464.2" r="7.4" fill="#f4f4f4"/><circle cx="183.8" cy="464.2" r="5.6" fill="url(#ball2)" stroke="#3a3a3a" stroke-width="1.18"/><path d="M182.3,459.8 L185.2,459.8 L184.2,460.9 L184.2,467.6 L185.2,468.7 L182.3,468.7 L183.2,467.6 L183.2,460.9 Z" fill="#202020"/>
<circle cx="254.7" cy="489.3" r="7.0" fill="#c4c4c4"/><circle cx="249.8" cy="489.0" r="7.4" fill="#f4f4f4"/><circle cx="249.8" cy="489.0" r="5.6" fill="url(#ball2)" stroke="#3a3a3a" stroke-width="1.18"/><path d="M248.3,484.6 L251.2,484.6 L250.2,485.7 L250.2,492.3 L251.2,493.4 L248.3,493.4 L249.2,492.3 L249.2,485.7 Z" fill="#202020"/>
<circle cx="179.4" cy="508.0" r="7.0" fill="#c4c4c4"/><circle cx="183.8" cy="505.5" r="7.4" fill="#f4f4f4"/><circle cx="183.8" cy="505.5" r="5.6" fill="url(#ball2)" stroke="#3a3a3a" stroke-width="1.18"/><path d="M182.3,501.1 L185.2,501.1 L184.2,502.2 L184.2,508.8 L185.2,509.9 L182.3,509.9 L183.2,508.8 L183.2,502.2 Z" fill="#202020"/>
<circle cx="222.0" cy="524.7" r="7.0" fill="#c4c4c4"/><circle cx="221.2" cy="519.8" r="7.4" fill="#f4f4f4"/><circle cx="221.2" cy="519.8" r="5.6" fill="url(#ball2)" stroke="#3a3a3a" stroke-width="1.18"/><path d="M219.8,515.3 L222.7,515.3 L221.8,516.4 L221.8,523.1 L222.7,524.2 L219.8,524.2 L220.8,523.1 L220.8,516.4 Z" fill="#202020"/></g>
<text x="521.98" y="65.60" font-size="21.5" font-family="Liberation Sans, sans-serif" fill="#555" textLength="120.20" lengthAdjust="spacing" xml:space="preserve">Crystal from</text>
<text x="553.20" y="91.60" font-size="21.5" font-family="Liberation Sans, sans-serif" fill="#555" textLength="67.19" lengthAdjust="spacing" xml:space="preserve">Austria</text>
<text x="323.00" y="130.60" font-size="24" font-family="Liberation Sans, sans-serif" fill="#555" textLength="103.37" lengthAdjust="spacing" xml:space="preserve">925 Prata</text>
<text x="323.00" y="157.60" font-size="24" font-family="Liberation Sans, sans-serif" fill="#555" textLength="144.95" lengthAdjust="spacing" xml:space="preserve">925 Серебро</text>
<text x="323.00" y="183.00" font-size="24" font-family="Liberation Sans, sans-serif" fill="#555" textLength="105.60" lengthAdjust="spacing" xml:space="preserve">925 Silver</text>
<text x="30.96" y="368.40" font-size="18.8" font-family="Liberation Sans, sans-serif" fill="#555" textLength="54.19" lengthAdjust="spacing" xml:space="preserve">19MM</text>
<text x="311.00" y="445.10" font-size="21.8" font-family="Liberation Sans, sans-serif" fill="#555" textLength="60.84" lengthAdjust="spacing" xml:space="preserve">Zircon</text>
<text x="550.22" y="613.60" font-size="18.8" font-family="Liberation Sans, sans-serif" fill="#555" textLength="53.35" lengthAdjust="spacing" xml:space="preserve">12MM</text>
<text x="545.70" y="751.80" font-size="23.6" font-family="Liberation Sans, sans-serif" fill="#555" textLength="205.62" lengthAdjust="spacing" xml:space="preserve">Weight:  About3.2G</text>
<text x="22.92" y="780.80" font-size="16" font-family="Liberation Sans, sans-serif" fill="#555" textLength="295.06" lengthAdjust="spacing" xml:space="preserve">TIPS:manual measuring permissible error</text>
<rect x="527.2" y="742.7" width="7" height="6.6" fill="#111"/>
<rect x="12.75" y="767.2" width="4" height="14" fill="#111"/>
</svg></body></html>
